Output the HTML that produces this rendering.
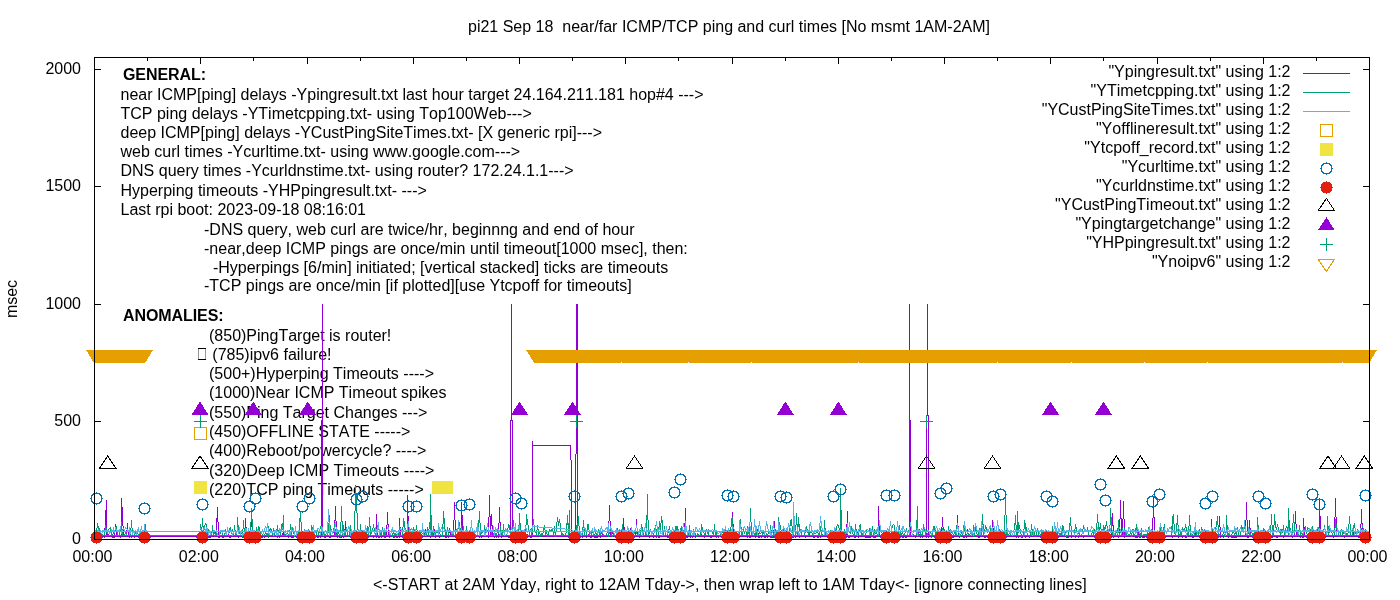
<!DOCTYPE html>
<html><head><meta charset="utf-8"><style>
html,body{margin:0;padding:0;background:#fff;width:1400px;height:600px;overflow:hidden}
text{font-family:"Liberation Sans",sans-serif}
</style></head><body>
<svg width="1400" height="600" viewBox="0 0 1400 600" font-family="Liberation Sans, sans-serif" style="position:absolute;left:0;top:0">
<rect width="1400" height="600" fill="#fff"/>
<g shape-rendering="crispEdges" stroke="#000" stroke-width="1" fill="none">
<path d="M95 421.5H101M1369 421.5H1363M95 304.5H101M1369 304.5H1363M95 186.5H101M1369 186.5H1363M95 69.5H101M1369 69.5H1363M147.5 58V61M147.5 539V536M200.5 58V64M200.5 539V533M253.5 58V61M253.5 539V536M307.5 58V64M307.5 539V533M360.5 58V61M360.5 539V536M413.5 58V64M413.5 539V533M466.5 58V61M466.5 539V536M519.5 58V64M519.5 539V533M572.5 58V61M572.5 539V536M625.5 58V64M625.5 539V533M678.5 58V61M678.5 539V536M732.5 58V64M732.5 539V533M785.5 58V61M785.5 539V536M838.5 58V64M838.5 539V533M891.5 58V61M891.5 539V536M944.5 58V64M944.5 539V533M997.5 58V61M997.5 539V536M1050.5 58V64M1050.5 539V533M1103.5 58V61M1103.5 539V536M1157.5 58V64M1157.5 539V533M1210.5 58V61M1210.5 539V536M1263.5 58V64M1263.5 539V533M1316.5 58V61M1316.5 539V536"/>
</g>
<defs><filter id="gs" x="0" y="0" width="1400" height="600" filterUnits="userSpaceOnUse"><feColorMatrix type="saturate" values="0"/></filter></defs>
<g fill="#000" style="font-kerning:none" filter="url(#gs)">
<text x="468.0" y="32.0" text-anchor="start" font-size="16" font-weight="normal" >pi21 Sep 18 &#160;near/far ICMP/TCP ping and curl times [No msmt 1AM-2AM]</text>
<text x="81.0" y="73.8" text-anchor="end" font-size="16" font-weight="normal" >2000</text>
<text x="81.0" y="190.8" text-anchor="end" font-size="16" font-weight="normal" >1500</text>
<text x="81.0" y="308.8" text-anchor="end" font-size="16" font-weight="normal" >1000</text>
<text x="81.0" y="425.8" text-anchor="end" font-size="16" font-weight="normal" >500</text>
<text x="81.0" y="543.8" text-anchor="end" font-size="16" font-weight="normal" >0</text>
<text x="92.5" y="562.0" text-anchor="middle" font-size="16" font-weight="normal" >00:00</text>
<text x="198.8" y="562.0" text-anchor="middle" font-size="16" font-weight="normal" >02:00</text>
<text x="305.0" y="562.0" text-anchor="middle" font-size="16" font-weight="normal" >04:00</text>
<text x="411.2" y="562.0" text-anchor="middle" font-size="16" font-weight="normal" >06:00</text>
<text x="517.5" y="562.0" text-anchor="middle" font-size="16" font-weight="normal" >08:00</text>
<text x="623.8" y="562.0" text-anchor="middle" font-size="16" font-weight="normal" >10:00</text>
<text x="730.0" y="562.0" text-anchor="middle" font-size="16" font-weight="normal" >12:00</text>
<text x="836.2" y="562.0" text-anchor="middle" font-size="16" font-weight="normal" >14:00</text>
<text x="942.5" y="562.0" text-anchor="middle" font-size="16" font-weight="normal" >16:00</text>
<text x="1048.8" y="562.0" text-anchor="middle" font-size="16" font-weight="normal" >18:00</text>
<text x="1155.0" y="562.0" text-anchor="middle" font-size="16" font-weight="normal" >20:00</text>
<text x="1261.2" y="562.0" text-anchor="middle" font-size="16" font-weight="normal" >22:00</text>
<text x="1367.5" y="562.0" text-anchor="middle" font-size="16" font-weight="normal" >00:00</text>
<text x="373.0" y="590.0" text-anchor="start" font-size="16" font-weight="normal" >&lt;-START at 2AM Yday, right to 12AM Tday-&gt;, then wrap left to 1AM Tday&lt;- [ignore connecting lines]</text>
<text x="0" y="0" transform="translate(17,299) rotate(-90)" text-anchor="middle" font-size="16">msec</text>
<text x="123.0" y="80.0" text-anchor="start" font-size="16" font-weight="bold" letter-spacing="-0.08">GENERAL:</text>
<text x="120.5" y="99.5" text-anchor="start" font-size="16" font-weight="normal" >near ICMP[ping] delays -Ypingresult.txt last hour target 24.164.211.181 hop#4 ---&gt;</text>
<text x="120.5" y="118.7" text-anchor="start" font-size="16" font-weight="normal" >TCP ping delays -YTimetcpping.txt- using Top100Web---&gt;</text>
<text x="120.5" y="137.9" text-anchor="start" font-size="16" font-weight="normal" >deep ICMP[ping] delays -YCustPingSiteTimes.txt- [X generic rpi]---&gt;</text>
<text x="120.5" y="157.1" text-anchor="start" font-size="16" font-weight="normal" >web curl times -Ycurltime.txt- using www.google.com---&gt;</text>
<text x="120.5" y="176.3" text-anchor="start" font-size="16" font-weight="normal" >DNS query times -Ycurldnstime.txt- using router? 172.24.1.1---&gt;</text>
<text x="120.5" y="195.5" text-anchor="start" font-size="16" font-weight="normal" >Hyperping timeouts -YHPpingresult.txt- ---&gt;</text>
<text x="120.5" y="214.7" text-anchor="start" font-size="16" font-weight="normal" >Last rpi boot: 2023-09-18 08:16:01</text>
<text x="204.0" y="234.6" text-anchor="start" font-size="16" font-weight="normal" >-DNS query, web curl are twice/hr, beginnng and end of hour</text>
<text x="204.0" y="253.5" text-anchor="start" font-size="16" font-weight="normal" >-near,deep ICMP pings are once/min until timeout[1000 msec], then:</text>
<text x="204.0" y="272.5" text-anchor="start" font-size="16" font-weight="normal" >&#160;&#160;-Hyperpings [6/min] initiated; [vertical stacked] ticks are timeouts</text>
<text x="204.0" y="291.4" text-anchor="start" font-size="16" font-weight="normal" >-TCP pings are once/min [if plotted][use Ytcpoff for timeouts]</text>
<text x="123.0" y="321.0" text-anchor="start" font-size="16" font-weight="bold" letter-spacing="-0.08">ANOMALIES:</text>
<text x="209.0" y="340.5" text-anchor="start" font-size="16" font-weight="normal" >(850)PingTarget is router!</text>
<text x="209.0" y="379.1" text-anchor="start" font-size="16" font-weight="normal" >(500+)Hyperping Timeouts ----&gt;</text>
<text x="209.0" y="398.4" text-anchor="start" font-size="16" font-weight="normal" >(1000)Near ICMP Timeout spikes</text>
<text x="209.0" y="417.7" text-anchor="start" font-size="16" font-weight="normal" >(550)Ping Target Changes ---&gt;</text>
<text x="209.0" y="437.0" text-anchor="start" font-size="16" font-weight="normal" >(450)OFFLINE STATE -----&gt;</text>
<text x="209.0" y="456.3" text-anchor="start" font-size="16" font-weight="normal" >(400)Reboot/powercycle? ----&gt;</text>
<text x="209.0" y="475.6" text-anchor="start" font-size="16" font-weight="normal" >(320)Deep ICMP Timeouts ----&gt;</text>
<text x="209.0" y="494.9" text-anchor="start" font-size="16" font-weight="normal" >(220)TCP ping Timeouts -----&gt; </text>
<text x="212.3" y="360.0" text-anchor="start" font-size="16" font-weight="normal" >(785)ipv6 failure!</text>
<path d="M198 348h8v1h-8zM198 359h8v1h-8z" fill="#000" shape-rendering="crispEdges"/><path d="M198 349h1v10h-1zM205 349h1v10h-1z" fill="#999" shape-rendering="crispEdges"/>
<text x="1290.5" y="76.6" text-anchor="end" font-size="16" font-weight="normal" >"Ypingresult.txt" using 1:2</text>
<text x="1290.5" y="95.6" text-anchor="end" font-size="16" font-weight="normal" >"YTimetcpping.txt" using 1:2</text>
<text x="1290.5" y="114.6" text-anchor="end" font-size="16" font-weight="normal" >"YCustPingSiteTimes.txt" using 1:2</text>
<text x="1290.5" y="133.6" text-anchor="end" font-size="16" font-weight="normal" >"Yofflineresult.txt" using 1:2</text>
<text x="1290.5" y="152.6" text-anchor="end" font-size="16" font-weight="normal" >"Ytcpoff_record.txt" using 1:2</text>
<text x="1290.5" y="171.6" text-anchor="end" font-size="16" font-weight="normal" >"Ycurltime.txt" using 1:2</text>
<text x="1290.5" y="190.6" text-anchor="end" font-size="16" font-weight="normal" >"Ycurldnstime.txt" using 1:2</text>
<text x="1290.5" y="209.6" text-anchor="end" font-size="16" font-weight="normal" >"YCustPingTimeout.txt" using 1:2</text>
<text x="1290.5" y="228.6" text-anchor="end" font-size="16" font-weight="normal" >"Ypingtargetchange" using 1:2</text>
<text x="1290.5" y="247.6" text-anchor="end" font-size="16" font-weight="normal" >"YHPpingresult.txt" using 1:2</text>
<text x="1290.5" y="266.6" text-anchor="end" font-size="16" font-weight="normal" >"Ynoipv6" using 1:2</text>
</g>
<g shape-rendering="crispEdges">
<line x1="532.5" y1="536.5" x2="573.5" y2="536.5" stroke="#9400d3" stroke-width="1"/>
<line x1="1368.5" y1="536.5" x2="94.5" y2="536.5" stroke="#9400d3" stroke-width="1"/>
<path d="M94.5 536v1M95.5 536v1M96.5 537v1M97.5 537v1M98.5 536v2M99.5 536v1M100.5 537v1M101.5 536v1M102.5 536v1M103.5 536v1M104.5 528v10M105.5 510v18M106.5 500v37M107.5 532v3M108.5 534v3M109.5 536v1M110.5 536v1M111.5 536v1M112.5 537v1M113.5 536v2M114.5 531v7M115.5 524v7M116.5 530v7M117.5 536v1M118.5 536v1M119.5 536v1M120.5 537v1M121.5 498v39M122.5 507v19M123.5 526v11M124.5 536v1M125.5 536v1M126.5 530v7M127.5 523v7M128.5 530v7M129.5 536v2M130.5 536v1M131.5 537v1M132.5 536v1M133.5 536v1M134.5 537v1M135.5 536v1M136.5 536v1M137.5 536v1M138.5 536v1M139.5 536v1M140.5 537v1M141.5 537v1M142.5 536v1M143.5 537v1M144.5 536v2M145.5 536v1M146.5 536v1M147.5 537v1M200.5 536v1M201.5 537v1M202.5 536v1M203.5 536v1M204.5 536v1M205.5 536v1M206.5 536v2M207.5 533v3M208.5 535v2M209.5 537v1M210.5 537v1M211.5 536v1M212.5 536v1M213.5 536v1M214.5 536v1M215.5 532v5M216.5 518v14M217.5 507v15M218.5 522v16M219.5 537v1M220.5 536v1M221.5 536v1M222.5 534v4M223.5 537v1M224.5 535v2M225.5 536v1M226.5 536v1M227.5 536v1M228.5 534v2M229.5 535v3M230.5 537v1M231.5 536v1M232.5 536v1M233.5 536v1M234.5 536v1M235.5 536v1M236.5 534v2M237.5 535v2M238.5 537v1M239.5 536v1M240.5 536v1M241.5 536v1M242.5 537v1M243.5 536v1M244.5 536v1M245.5 518v19M246.5 527v10M247.5 537v1M248.5 537v1M249.5 537v1M250.5 527v10M251.5 517v10M252.5 527v11M253.5 536v1M254.5 536v1M255.5 536v1M256.5 536v1M257.5 536v1M258.5 537v1M259.5 536v1M260.5 536v2M261.5 536v1M262.5 537v1M263.5 536v1M264.5 537v1M265.5 536v1M266.5 534v2M267.5 535v2M268.5 536v2M269.5 536v1M270.5 536v1M271.5 536v1M272.5 536v1M273.5 536v1M274.5 536v1M275.5 536v1M276.5 536v1M277.5 537v1M278.5 536v1M279.5 537v1M280.5 536v1M281.5 536v1M282.5 533v4M283.5 528v9M284.5 536v1M285.5 536v1M286.5 536v1M287.5 536v1M288.5 537v1M289.5 536v1M290.5 536v1M291.5 536v2M292.5 537v1M293.5 537v1M294.5 536v1M295.5 536v1M296.5 536v1M297.5 536v1M298.5 537v1M299.5 536v1M300.5 536v1M301.5 536v1M302.5 537v1M303.5 536v1M304.5 536v1M305.5 536v1M306.5 536v1M307.5 535v3M308.5 537v1M309.5 536v1M310.5 536v1M311.5 537v1M312.5 537v1M313.5 537v1M314.5 536v2M315.5 536v1M316.5 536v1M317.5 537v1M318.5 537v1M319.5 536v1M320.5 537v1M321.5 536v1M322.5 536v1M323.5 536v1M324.5 537v1M325.5 537v1M326.5 536v1M327.5 536v1M328.5 536v1M329.5 537v1M330.5 535v3M331.5 536v1M332.5 536v1M333.5 535v2M334.5 520v15M335.5 506v15M336.5 521v16M337.5 536v2M338.5 536v1M339.5 537v1M340.5 537v1M341.5 537v1M342.5 536v1M343.5 537v1M344.5 529v8M345.5 521v15M346.5 536v1M347.5 536v1M348.5 536v1M349.5 536v1M350.5 536v1M351.5 536v1M352.5 536v1M353.5 535v2M354.5 536v2M355.5 536v1M356.5 537v1M357.5 535v2M358.5 536v1M359.5 536v1M360.5 537v1M361.5 533v4M362.5 535v2M363.5 536v1M364.5 536v1M365.5 536v1M366.5 536v1M367.5 537v1M368.5 537v1M369.5 536v1M370.5 536v1M371.5 536v1M372.5 536v1M373.5 537v1M374.5 536v1M375.5 536v1M376.5 514v24M377.5 525v12M378.5 537v1M379.5 537v1M380.5 536v1M381.5 537v1M382.5 536v1M383.5 536v1M384.5 536v2M385.5 537v1M386.5 525v12M387.5 512v13M388.5 524v13M389.5 537v1M390.5 536v1M391.5 536v1M392.5 536v1M393.5 537v1M394.5 537v1M395.5 536v1M396.5 537v1M397.5 537v1M398.5 536v1M399.5 518v20M400.5 527v10M401.5 536v1M402.5 536v1M403.5 537v1M404.5 536v1M405.5 536v1M406.5 536v1M407.5 495v43M408.5 516v22M409.5 536v1M410.5 536v1M411.5 536v1M412.5 534v2M413.5 535v2M414.5 536v1M415.5 536v2M416.5 536v1M417.5 536v1M418.5 537v1M419.5 536v1M420.5 536v1M421.5 536v1M422.5 536v1M423.5 536v1M424.5 533v4M425.5 529v4M426.5 533v4M427.5 536v1M428.5 536v1M429.5 536v1M430.5 537v1M431.5 536v1M432.5 536v1M433.5 532v4M434.5 529v4M435.5 533v5M436.5 536v1M437.5 536v1M438.5 536v1M439.5 537v1M440.5 535v2M441.5 536v1M442.5 536v1M443.5 536v1M444.5 536v1M445.5 537v1M446.5 536v2M447.5 536v1M448.5 533v5M449.5 528v5M450.5 532v5M451.5 536v1M452.5 535v1M453.5 520v17M454.5 502v18M455.5 520v18M456.5 536v1M457.5 537v1M458.5 537v1M459.5 536v1M460.5 536v1M461.5 502v35M462.5 515v18M463.5 533v5M464.5 536v1M465.5 536v1M466.5 536v1M467.5 536v1M468.5 536v1M469.5 536v2M470.5 537v1M471.5 537v1M472.5 536v1M473.5 537v1M474.5 537v1M475.5 536v1M476.5 536v1M477.5 536v1M478.5 536v1M479.5 537v1M480.5 536v1M481.5 537v1M482.5 536v1M483.5 536v1M484.5 536v1M485.5 536v1M486.5 536v1M487.5 536v1M488.5 517v21M489.5 495v22M490.5 516v21M491.5 514v12M492.5 525v12M493.5 536v1M494.5 537v1M495.5 536v1M496.5 537v1M497.5 536v1M498.5 523v15M499.5 507v16M500.5 522v15M501.5 537v1M502.5 536v1M503.5 536v1M504.5 536v1M505.5 536v1M506.5 536v1M507.5 536v1M508.5 537v1M509.5 536v1M510.5 536v1M511.5 534v2M512.5 536v2M513.5 536v1M514.5 537v1M515.5 536v1M516.5 536v1M517.5 536v1M518.5 536v1M519.5 536v1M520.5 536v1M521.5 534v2M522.5 535v2M523.5 536v2M524.5 536v1M525.5 537v1M526.5 536v1M527.5 534v2M528.5 535v2M529.5 536v1M530.5 537v1M531.5 536v2M532.5 536v1M573.5 536v1M574.5 536v1M575.5 536v1M576.5 536v1M577.5 536v1M578.5 536v1M579.5 537v1M580.5 536v1M581.5 536v1M582.5 537v1M583.5 536v1M584.5 536v1M585.5 536v1M586.5 537v1M587.5 536v1M588.5 534v2M589.5 535v2M590.5 537v1M591.5 537v1M592.5 536v1M593.5 536v1M594.5 537v1M595.5 537v1M596.5 537v1M597.5 537v1M598.5 536v1M599.5 536v1M600.5 536v2M601.5 536v1M602.5 534v2M603.5 535v2M604.5 536v1M605.5 536v1M606.5 536v1M607.5 536v1M608.5 521v16M609.5 505v16M610.5 521v16M611.5 534v3M612.5 530v4M613.5 533v4M614.5 536v1M615.5 537v1M616.5 536v1M617.5 536v1M618.5 536v1M619.5 536v1M620.5 536v1M621.5 536v1M622.5 536v1M623.5 518v20M624.5 527v10M625.5 536v1M626.5 536v1M627.5 537v1M628.5 537v1M629.5 533v5M630.5 528v5M631.5 532v5M632.5 536v1M633.5 537v1M634.5 536v1M635.5 528v9M636.5 519v9M637.5 528v9M638.5 536v1M639.5 536v2M640.5 534v2M641.5 535v2M642.5 536v1M643.5 536v1M644.5 536v1M645.5 536v1M646.5 536v1M647.5 536v1M648.5 536v1M649.5 537v1M650.5 536v1M651.5 536v1M652.5 536v1M653.5 537v1M654.5 536v1M655.5 536v1M656.5 537v1M657.5 536v1M658.5 537v1M659.5 537v1M660.5 536v1M661.5 536v1M662.5 536v1M663.5 536v1M664.5 536v1M665.5 536v1M666.5 536v1M667.5 537v1M668.5 537v1M669.5 536v1M670.5 536v2M671.5 536v1M672.5 537v1M673.5 537v1M674.5 536v1M675.5 537v1M676.5 536v1M677.5 537v1M678.5 536v1M679.5 536v1M680.5 537v1M681.5 536v1M682.5 537v1M683.5 537v1M684.5 523v14M685.5 508v29M686.5 537v1M687.5 537v1M688.5 536v1M689.5 536v1M690.5 537v1M691.5 536v1M692.5 537v1M693.5 536v1M694.5 536v1M695.5 537v1M696.5 536v1M697.5 536v1M698.5 536v1M699.5 536v1M700.5 536v1M701.5 533v4M702.5 535v2M703.5 536v1M704.5 537v1M705.5 536v1M706.5 536v1M707.5 536v1M708.5 536v1M709.5 536v1M710.5 537v1M711.5 537v1M712.5 536v1M713.5 536v1M714.5 536v1M715.5 536v1M716.5 536v2M717.5 536v1M718.5 537v1M719.5 536v1M720.5 536v1M721.5 536v1M722.5 536v1M723.5 536v1M724.5 536v2M725.5 536v1M726.5 536v1M727.5 536v1M728.5 536v1M729.5 536v1M730.5 536v1M731.5 536v1M732.5 512v25M733.5 524v13M734.5 535v2M735.5 532v3M736.5 534v3M737.5 536v1M738.5 537v1M739.5 536v2M740.5 536v1M741.5 536v1M742.5 536v1M743.5 536v1M744.5 536v1M745.5 536v1M746.5 534v2M747.5 535v3M748.5 536v1M749.5 537v1M750.5 537v1M751.5 536v1M752.5 536v1M753.5 536v1M754.5 536v1M755.5 536v2M756.5 533v4M757.5 529v4M758.5 533v5M759.5 537v1M760.5 536v1M761.5 537v1M762.5 536v1M763.5 536v1M764.5 537v1M765.5 537v1M766.5 536v1M767.5 537v1M768.5 536v1M769.5 536v1M770.5 536v2M771.5 537v1M772.5 537v1M773.5 530v8M774.5 521v9M775.5 529v9M776.5 536v1M777.5 536v1M778.5 536v2M779.5 536v1M780.5 537v1M781.5 536v1M782.5 537v1M783.5 536v1M784.5 536v1M785.5 535v1M786.5 536v1M787.5 536v1M788.5 537v1M789.5 537v1M790.5 536v1M791.5 536v1M792.5 536v1M793.5 536v2M794.5 536v1M795.5 537v1M796.5 536v1M797.5 536v1M798.5 536v1M799.5 537v1M800.5 536v1M801.5 536v1M802.5 536v1M803.5 536v1M804.5 536v1M805.5 537v1M806.5 536v1M807.5 536v1M808.5 536v1M809.5 534v3M810.5 535v2M811.5 536v1M812.5 536v1M813.5 537v1M814.5 537v1M815.5 536v1M816.5 536v1M817.5 536v2M818.5 537v1M819.5 536v1M820.5 537v1M821.5 536v1M822.5 536v1M823.5 536v1M824.5 535v2M825.5 536v1M826.5 536v1M827.5 534v2M828.5 535v2M829.5 536v1M830.5 536v1M831.5 536v1M832.5 536v2M833.5 537v1M834.5 537v1M835.5 536v1M836.5 536v1M837.5 536v1M838.5 536v1M839.5 537v1M840.5 536v1M841.5 536v1M842.5 536v1M843.5 536v1M844.5 536v1M845.5 536v1M846.5 524v13M847.5 511v26M848.5 537v1M849.5 537v1M850.5 536v1M851.5 536v1M852.5 536v1M853.5 536v1M854.5 537v1M855.5 536v2M856.5 535v2M857.5 532v3M858.5 535v3M859.5 536v1M860.5 536v1M861.5 536v1M862.5 536v1M863.5 535v2M864.5 536v1M865.5 537v1M866.5 537v1M867.5 537v1M868.5 537v1M869.5 537v1M870.5 537v1M871.5 536v1M872.5 536v1M873.5 537v1M874.5 537v1M875.5 537v1M876.5 536v1M877.5 536v1M878.5 506v31M879.5 521v16M880.5 536v1M881.5 536v1M882.5 537v1M883.5 536v1M884.5 537v1M885.5 537v1M886.5 536v2M887.5 536v1M888.5 537v1M889.5 536v1M890.5 536v1M891.5 536v1M892.5 536v1M893.5 535v2M894.5 533v3M895.5 536v1M896.5 537v1M897.5 537v1M898.5 536v1M899.5 536v1M900.5 536v1M901.5 536v1M902.5 536v2M903.5 537v1M904.5 536v1M905.5 537v1M906.5 537v1M907.5 536v1M908.5 536v1M909.5 536v1M910.5 536v1M911.5 536v1M912.5 536v1M913.5 536v1M914.5 536v1M915.5 537v1M916.5 536v1M917.5 535v2M918.5 532v3M919.5 534v3M920.5 537v1M921.5 536v1M922.5 537v1M923.5 536v1M924.5 536v1M925.5 536v1M926.5 537v1M927.5 536v1M928.5 537v1M929.5 536v1M930.5 536v1M931.5 537v1M932.5 536v1M933.5 536v1M934.5 536v1M935.5 536v1M936.5 537v1M937.5 536v1M938.5 537v1M939.5 535v2M940.5 533v5M941.5 527v10M942.5 517v10M943.5 527v11M944.5 536v1M945.5 536v1M946.5 536v1M947.5 536v1M948.5 536v2M949.5 537v1M950.5 537v1M951.5 536v1M952.5 537v1M953.5 537v1M954.5 536v1M955.5 536v1M956.5 526v11M957.5 515v11M958.5 526v11M959.5 537v1M960.5 536v1M961.5 536v1M962.5 536v1M963.5 536v2M964.5 536v2M965.5 534v2M966.5 534v4M967.5 529v5M968.5 533v4M969.5 536v1M970.5 536v1M971.5 536v1M972.5 536v1M973.5 536v1M974.5 536v1M975.5 536v1M976.5 536v1M977.5 536v1M978.5 537v1M979.5 536v2M980.5 536v1M981.5 536v1M982.5 536v1M983.5 536v1M984.5 537v1M985.5 537v1M986.5 536v1M987.5 536v1M988.5 536v1M989.5 536v1M990.5 536v1M991.5 529v8M992.5 520v9M993.5 528v9M994.5 536v1M995.5 535v2M996.5 533v2M997.5 531v3M998.5 534v3M999.5 536v1M1000.5 536v1M1001.5 536v1M1002.5 536v1M1003.5 536v1M1004.5 537v1M1005.5 536v1M1006.5 536v1M1007.5 536v1M1008.5 536v1M1009.5 536v1M1010.5 533v4M1011.5 535v2M1012.5 536v1M1013.5 536v1M1014.5 536v1M1015.5 536v1M1016.5 537v1M1017.5 536v1M1018.5 537v1M1019.5 536v1M1020.5 536v1M1021.5 537v1M1022.5 537v1M1023.5 535v2M1024.5 536v1M1025.5 537v1M1026.5 536v1M1027.5 536v1M1028.5 536v1M1029.5 537v1M1030.5 536v1M1031.5 536v1M1032.5 536v1M1033.5 536v1M1034.5 536v1M1035.5 536v1M1036.5 534v2M1037.5 535v2M1038.5 536v1M1039.5 536v1M1040.5 536v1M1041.5 536v1M1042.5 536v1M1043.5 536v1M1044.5 536v1M1045.5 537v1M1046.5 536v1M1047.5 537v1M1048.5 536v1M1049.5 536v1M1050.5 536v1M1051.5 536v1M1052.5 536v1M1053.5 536v1M1054.5 536v1M1055.5 536v1M1056.5 536v2M1057.5 536v1M1058.5 537v1M1059.5 536v1M1060.5 536v1M1061.5 536v1M1062.5 536v1M1063.5 536v1M1064.5 536v1M1065.5 536v1M1066.5 537v1M1067.5 537v1M1068.5 537v1M1069.5 536v1M1070.5 536v1M1071.5 537v1M1072.5 536v1M1073.5 536v1M1074.5 536v1M1075.5 537v1M1076.5 536v1M1077.5 536v1M1078.5 537v1M1079.5 536v1M1080.5 536v1M1081.5 536v1M1082.5 536v1M1083.5 537v1M1084.5 536v1M1085.5 536v1M1086.5 536v1M1087.5 536v1M1088.5 536v1M1089.5 536v1M1090.5 536v1M1091.5 536v1M1092.5 536v1M1093.5 536v1M1094.5 536v1M1095.5 535v3M1096.5 536v1M1097.5 536v1M1098.5 536v1M1099.5 536v1M1100.5 536v1M1101.5 536v1M1102.5 537v1M1103.5 537v1M1104.5 536v1M1105.5 536v1M1106.5 536v1M1107.5 536v2M1108.5 534v2M1109.5 536v2M1110.5 536v2M1111.5 526v12M1112.5 513v13M1113.5 525v13M1114.5 536v1M1115.5 534v2M1116.5 535v2M1117.5 536v1M1118.5 536v2M1119.5 519v18M1120.5 500v19M1121.5 518v19M1122.5 519v18M1123.5 501v18M1124.5 519v19M1125.5 536v1M1126.5 536v1M1127.5 536v1M1128.5 536v1M1129.5 536v1M1130.5 536v1M1131.5 536v1M1132.5 535v1M1133.5 536v1M1134.5 536v1M1135.5 537v1M1136.5 537v1M1137.5 535v3M1138.5 531v4M1139.5 534v4M1140.5 537v1M1141.5 534v3M1142.5 536v2M1143.5 537v1M1144.5 537v1M1145.5 536v1M1146.5 537v1M1147.5 536v1M1148.5 537v1M1149.5 534v3M1150.5 535v2M1151.5 536v1M1152.5 518v20M1153.5 497v21M1154.5 517v21M1155.5 536v1M1156.5 536v1M1157.5 536v2M1158.5 536v1M1159.5 537v1M1160.5 537v1M1161.5 537v1M1162.5 536v1M1163.5 536v1M1164.5 536v2M1165.5 536v1M1166.5 536v1M1167.5 536v1M1168.5 536v1M1169.5 536v1M1170.5 536v1M1171.5 536v1M1172.5 536v2M1173.5 536v1M1174.5 536v1M1175.5 536v1M1176.5 536v1M1177.5 536v1M1178.5 537v1M1179.5 536v1M1180.5 536v1M1181.5 536v1M1182.5 537v1M1183.5 536v1M1184.5 536v1M1185.5 537v1M1186.5 537v1M1187.5 536v1M1188.5 536v1M1189.5 536v1M1190.5 536v1M1191.5 536v1M1192.5 537v1M1193.5 537v1M1194.5 535v2M1195.5 533v4M1196.5 536v1M1197.5 536v1M1198.5 536v1M1199.5 537v1M1200.5 535v2M1201.5 536v2M1202.5 536v1M1203.5 537v1M1204.5 537v1M1205.5 536v1M1206.5 536v1M1207.5 536v1M1208.5 536v1M1209.5 537v1M1210.5 536v1M1211.5 519v19M1212.5 528v9M1213.5 536v1M1214.5 536v1M1215.5 536v1M1216.5 536v1M1217.5 536v1M1218.5 527v11M1219.5 516v11M1220.5 527v11M1221.5 536v1M1222.5 536v1M1223.5 537v1M1224.5 536v1M1225.5 536v1M1226.5 536v1M1227.5 536v1M1228.5 537v1M1229.5 536v1M1230.5 536v1M1231.5 537v1M1232.5 537v1M1233.5 537v1M1234.5 536v2M1235.5 537v1M1236.5 537v1M1237.5 535v2M1238.5 536v1M1239.5 536v1M1240.5 536v1M1241.5 536v1M1242.5 536v1M1243.5 536v1M1244.5 536v1M1245.5 520v17M1246.5 502v18M1247.5 520v18M1248.5 537v1M1249.5 520v17M1250.5 528v9M1251.5 536v1M1252.5 536v1M1253.5 536v1M1254.5 536v1M1255.5 537v1M1256.5 535v2M1257.5 533v4M1258.5 536v1M1259.5 537v1M1260.5 536v1M1261.5 536v1M1262.5 536v1M1263.5 536v1M1264.5 536v1M1265.5 536v2M1266.5 536v1M1267.5 537v1M1268.5 536v1M1269.5 536v1M1270.5 537v1M1271.5 537v1M1272.5 536v2M1273.5 536v1M1274.5 536v1M1275.5 536v1M1276.5 537v1M1277.5 537v1M1278.5 536v1M1279.5 536v1M1280.5 536v1M1281.5 536v1M1282.5 536v1M1283.5 536v2M1284.5 534v2M1285.5 534v1M1286.5 535v2M1287.5 536v1M1288.5 536v1M1289.5 536v1M1290.5 536v1M1291.5 536v1M1292.5 537v1M1293.5 536v1M1294.5 523v13M1295.5 511v13M1296.5 524v13M1297.5 536v1M1298.5 536v1M1299.5 536v1M1300.5 537v1M1301.5 536v1M1302.5 537v1M1303.5 518v20M1304.5 527v10M1305.5 536v1M1306.5 536v1M1307.5 536v1M1308.5 537v1M1309.5 536v1M1310.5 537v1M1311.5 536v1M1312.5 536v1M1313.5 536v1M1314.5 536v1M1315.5 536v1M1316.5 536v1M1317.5 537v1M1318.5 537v1M1319.5 498v39M1320.5 516v19M1321.5 535v2M1322.5 536v1M1323.5 536v1M1324.5 536v1M1325.5 536v1M1326.5 536v1M1327.5 536v1M1328.5 536v1M1329.5 536v1M1330.5 536v1M1331.5 536v1M1332.5 536v1M1333.5 537v1M1334.5 517v20M1335.5 498v19M1336.5 517v20M1337.5 536v1M1338.5 536v1M1339.5 536v1M1340.5 536v1M1341.5 536v1M1342.5 536v1M1343.5 536v1M1344.5 537v1M1345.5 536v1M1346.5 536v1M1347.5 536v1M1348.5 536v1M1349.5 536v1M1350.5 536v1M1351.5 536v1M1352.5 535v2M1353.5 532v3M1354.5 534v3M1355.5 536v1M1356.5 536v1M1357.5 536v1M1358.5 537v1M1359.5 536v1M1360.5 524v14M1361.5 509v15M1362.5 523v14M1363.5 536v1M1364.5 536v1M1365.5 536v1M1366.5 536v1M1367.5 536v1M1368.5 536v1" stroke="#9400d3" stroke-width="1" fill="none"/>
<rect x="322.0" y="304.0" width="1" height="232.0" fill="#9400d3"/>
<rect x="321.0" y="420.0" width="1" height="116.0" fill="#9400d3"/>
<rect x="511.0" y="304.0" width="1" height="117.0" fill="#9400d3"/>
<rect x="510.0" y="420.0" width="1" height="116.0" fill="#9400d3"/>
<rect x="512.0" y="420.0" width="1" height="116.0" fill="#9400d3"/>
<rect x="577.0" y="304.0" width="1" height="232.0" fill="#9400d3"/>
<rect x="576.0" y="304.0" width="1" height="150.0" fill="#9400d3"/>
<rect x="909.0" y="304.0" width="1" height="232.0" fill="#9400d3"/>
<rect x="910.0" y="420.0" width="1" height="116.0" fill="#9400d3"/>
<rect x="927.0" y="304.0" width="1" height="112.0" fill="#9400d3"/>
<rect x="926.0" y="415.0" width="1" height="121.0" fill="#9400d3"/>
<rect x="928.0" y="415.0" width="1" height="121.0" fill="#9400d3"/>
<rect x="532.0" y="440.5" width="1" height="95.5" fill="#9400d3"/>
<rect x="532" y="445" width="39" height="1" fill="#9400d3"/>
<rect x="570.0" y="445.0" width="1" height="15.0" fill="#9400d3"/>
<rect x="571.0" y="460.0" width="1" height="76.0" fill="#9400d3"/>
<rect x="575.0" y="454.0" width="1" height="82.0" fill="#9400d3"/>
<line x1="1368.5" y1="535.5" x2="94.5" y2="535.5" stroke="#009e73" stroke-width="1"/>
<path d="M94.5 534v2M95.5 532v2M96.5 528v5M97.5 523v5M98.5 526v4M99.5 528v4M100.5 532v3M101.5 533v1M102.5 534v1M103.5 535v1M104.5 531v5M105.5 525v6M106.5 528v5M107.5 532v2M108.5 529v3M109.5 528v1M110.5 527v4M111.5 531v5M112.5 534v2M113.5 531v3M114.5 530v1M115.5 529v2M116.5 526v4M117.5 530v5M118.5 535v1M119.5 531v4M120.5 527v4M121.5 522v11M122.5 529v7M123.5 535v1M124.5 534v2M125.5 531v3M126.5 533v3M127.5 535v1M128.5 535v1M129.5 529v7M130.5 528v8M131.5 520v8M132.5 528v8M133.5 535v1M134.5 533v2M135.5 532v2M136.5 534v2M137.5 531v3M138.5 534v2M139.5 534v2M140.5 532v2M141.5 534v2M142.5 535v1M143.5 534v1M144.5 528v7M145.5 524v6M146.5 530v6M147.5 532v2M200.5 524v6M201.5 527v9M202.5 518v9M203.5 526v8M204.5 525v5M205.5 523v2M206.5 524v12M207.5 532v3M208.5 529v3M209.5 530v1M210.5 531v2M211.5 531v5M212.5 525v6M213.5 530v6M214.5 531v3M215.5 533v3M216.5 533v2M217.5 534v2M218.5 535v1M219.5 534v1M220.5 532v2M221.5 530v2M222.5 532v4M223.5 535v1M224.5 533v3M225.5 529v4M226.5 532v4M227.5 528v4M228.5 530v2M229.5 528v5M230.5 527v3M231.5 530v4M232.5 529v3M233.5 531v5M234.5 525v6M235.5 530v6M236.5 531v5M237.5 517v14M238.5 525v8M239.5 532v2M240.5 534v2M241.5 531v3M242.5 529v8M243.5 520v9M244.5 528v8M245.5 529v7M246.5 530v3M247.5 532v2M248.5 534v2M249.5 535v1M250.5 522v14M251.5 508v14M252.5 519v14M253.5 533v3M254.5 535v1M255.5 532v5M256.5 527v5M257.5 532v5M258.5 526v6M259.5 527v5M260.5 532v4M261.5 535v1M262.5 534v2M263.5 532v2M264.5 534v2M265.5 532v2M266.5 533v2M267.5 533v2M268.5 526v11M269.5 529v3M270.5 528v2M271.5 529v4M272.5 532v4M273.5 528v4M274.5 532v4M275.5 530v3M276.5 529v7M277.5 525v6M278.5 530v6M279.5 529v4M280.5 530v6M281.5 524v6M282.5 523v7M283.5 515v17M284.5 532v4M285.5 534v1M286.5 534v1M287.5 533v1M288.5 534v2M289.5 530v6M290.5 524v6M291.5 530v6M292.5 527v4M293.5 530v4M294.5 534v3M295.5 535v1M296.5 535v1M297.5 534v1M298.5 532v2M299.5 518v14M300.5 511v11M301.5 522v12M302.5 532v1M303.5 532v3M304.5 529v3M305.5 532v4M306.5 535v2M307.5 531v4M308.5 529v3M309.5 532v4M310.5 531v5M311.5 525v6M312.5 527v5M313.5 532v4M314.5 534v3M315.5 536v1M316.5 532v4M317.5 529v3M318.5 532v4M319.5 529v4M320.5 526v3M321.5 528v2M322.5 529v7M323.5 532v2M324.5 534v2M325.5 534v2M326.5 531v3M327.5 533v3M328.5 523v10M329.5 515v10M330.5 525v11M331.5 529v2M332.5 531v2M333.5 528v5M334.5 523v6M335.5 529v6M336.5 534v1M337.5 530v6M338.5 532v2M339.5 534v2M340.5 522v15M341.5 506v16M342.5 521v15M343.5 525v6M344.5 530v6M345.5 531v5M346.5 527v4M347.5 531v5M348.5 535v2M349.5 529v6M350.5 525v6M351.5 531v6M352.5 532v3M353.5 534v2M354.5 511v25M355.5 485v26M356.5 493v20M357.5 513v17M358.5 530v6M359.5 530v6M360.5 524v6M361.5 530v6M362.5 530v3M363.5 533v3M364.5 530v3M365.5 532v3M366.5 531v5M367.5 526v5M368.5 527v9M369.5 517v10M370.5 526v10M371.5 531v3M372.5 528v4M373.5 524v4M374.5 528v5M375.5 533v3M376.5 531v5M377.5 525v6M378.5 527v3M379.5 530v3M380.5 533v3M381.5 532v4M382.5 527v5M383.5 531v5M384.5 528v8M385.5 532v4M386.5 535v1M387.5 535v1M388.5 535v1M389.5 533v2M390.5 533v2M391.5 530v3M392.5 533v4M393.5 531v3M394.5 533v3M395.5 533v2M396.5 534v2M397.5 535v1M398.5 531v5M399.5 526v10M400.5 535v1M401.5 535v1M402.5 527v8M403.5 518v9M404.5 521v7M405.5 528v4M406.5 530v2M407.5 532v3M408.5 530v2M409.5 531v1M410.5 529v3M411.5 532v4M412.5 532v4M413.5 527v5M414.5 530v3M415.5 530v4M416.5 525v5M417.5 530v6M418.5 535v1M419.5 534v2M420.5 531v3M421.5 532v1M422.5 533v1M423.5 534v1M424.5 534v2M425.5 531v3M426.5 532v4M427.5 527v5M428.5 529v7M429.5 522v7M430.5 494v37M431.5 515v21M432.5 531v5M433.5 526v5M434.5 531v5M435.5 533v3M436.5 530v3M437.5 531v2M438.5 530v3M439.5 532v2M440.5 534v1M441.5 535v1M442.5 524v13M443.5 511v13M444.5 518v12M445.5 530v6M446.5 532v4M447.5 527v5M448.5 531v5M449.5 535v1M450.5 535v1M451.5 534v1M452.5 533v3M453.5 530v6M454.5 535v1M455.5 532v3M456.5 529v3M457.5 529v1M458.5 526v3M459.5 522v6M460.5 528v7M461.5 525v11M462.5 530v6M463.5 526v5M464.5 531v5M465.5 531v5M466.5 526v5M467.5 530v5M468.5 535v1M469.5 534v3M470.5 531v3M471.5 531v3M472.5 534v3M473.5 532v3M474.5 532v2M475.5 534v3M476.5 535v1M477.5 531v6M478.5 520v11M479.5 511v12M480.5 523v13M481.5 531v3M482.5 532v1M483.5 531v1M484.5 525v6M485.5 529v4M486.5 531v1M487.5 530v1M488.5 528v2M489.5 530v2M490.5 529v3M491.5 532v4M492.5 535v1M493.5 533v3M494.5 530v3M495.5 533v3M496.5 533v3M497.5 529v4M498.5 531v3M499.5 534v2M500.5 526v9M501.5 531v5M502.5 530v6M503.5 524v6M504.5 530v6M505.5 535v1M506.5 534v2M507.5 528v6M508.5 524v4M509.5 525v5M510.5 530v6M511.5 531v3M512.5 527v6M513.5 520v8M514.5 528v8M515.5 528v8M516.5 532v4M517.5 529v4M518.5 525v11M519.5 513v12M520.5 523v10M521.5 530v2M522.5 532v2M523.5 530v6M524.5 535v1M525.5 525v11M526.5 514v11M527.5 519v6M528.5 525v5M529.5 530v5M530.5 529v3M531.5 528v8M532.5 525v8M533.5 519v6M534.5 525v6M535.5 531v2M536.5 530v5M537.5 525v5M538.5 529v7M539.5 531v3M540.5 534v3M541.5 533v2M542.5 533v3M543.5 528v5M544.5 525v5M545.5 530v6M546.5 530v4M547.5 534v3M548.5 532v4M549.5 529v3M550.5 530v2M551.5 529v2M552.5 528v3M553.5 531v4M554.5 526v7M555.5 531v6M556.5 522v9M557.5 517v5M558.5 521v5M559.5 519v4M560.5 523v8M561.5 531v5M562.5 533v3M563.5 534v1M564.5 535v1M565.5 533v3M566.5 523v10M567.5 515v10M568.5 523v13M569.5 510v26M570.5 535v1M571.5 533v2M572.5 534v1M573.5 533v3M574.5 530v3M575.5 529v3M576.5 525v5M577.5 523v13M578.5 516v10M579.5 526v10M580.5 531v3M581.5 533v3M582.5 527v8M583.5 520v8M584.5 528v8M585.5 535v1M586.5 530v6M587.5 524v6M588.5 524v6M589.5 530v6M590.5 535v1M591.5 532v4M592.5 528v5M593.5 533v3M594.5 534v2M595.5 531v3M596.5 533v2M597.5 532v3M598.5 529v3M599.5 532v3M600.5 530v6M601.5 532v2M602.5 533v1M603.5 534v2M604.5 535v1M605.5 535v1M606.5 533v3M607.5 529v4M608.5 532v5M609.5 530v4M610.5 527v4M611.5 531v5M612.5 535v2M613.5 532v3M614.5 534v2M615.5 535v1M616.5 532v4M617.5 528v4M618.5 531v3M619.5 529v3M620.5 531v3M621.5 530v6M622.5 524v6M623.5 529v7M624.5 535v1M625.5 535v1M626.5 536v1M627.5 534v2M628.5 531v3M629.5 533v2M630.5 533v2M631.5 530v6M632.5 535v1M633.5 534v2M634.5 531v3M635.5 529v2M636.5 531v3M637.5 534v2M638.5 535v1M639.5 534v2M640.5 530v6M641.5 524v6M642.5 527v5M643.5 532v4M644.5 527v5M645.5 531v5M646.5 515v21M647.5 494v26M648.5 520v16M649.5 531v3M650.5 529v3M651.5 532v4M652.5 535v1M653.5 533v3M654.5 528v5M655.5 525v4M656.5 529v6M657.5 535v2M658.5 527v8M659.5 521v6M660.5 523v7M661.5 516v7M662.5 520v16M663.5 531v5M664.5 526v5M665.5 531v5M666.5 535v1M667.5 533v3M668.5 529v4M669.5 526v4M670.5 530v5M671.5 533v2M672.5 534v1M673.5 535v2M674.5 531v5M675.5 526v5M676.5 526v5M677.5 526v10M678.5 529v4M679.5 533v3M680.5 528v5M681.5 526v5M682.5 531v6M683.5 530v5M684.5 527v5M685.5 532v5M686.5 528v4M687.5 532v4M688.5 531v5M689.5 525v6M690.5 530v6M691.5 535v1M692.5 533v3M693.5 529v7M694.5 533v2M695.5 533v2M696.5 535v2M697.5 533v2M698.5 534v2M699.5 535v1M700.5 531v5M701.5 524v7M702.5 527v3M703.5 530v3M704.5 533v3M705.5 532v3M706.5 529v3M707.5 531v3M708.5 529v7M709.5 530v2M710.5 531v1M711.5 531v1M712.5 532v2M713.5 530v6M714.5 524v6M715.5 530v6M716.5 532v4M717.5 535v1M718.5 535v1M719.5 535v2M720.5 533v2M721.5 531v2M722.5 532v1M723.5 532v2M724.5 530v6M725.5 529v4M726.5 530v2M727.5 532v2M728.5 533v3M729.5 530v3M730.5 527v9M731.5 518v9M732.5 517v18M733.5 534v2M734.5 531v3M735.5 532v1M736.5 531v1M737.5 531v1M738.5 531v2M739.5 526v10M740.5 519v8M741.5 527v9M742.5 532v4M743.5 528v4M744.5 531v3M745.5 528v4M746.5 532v4M747.5 526v10M748.5 529v5M749.5 522v14M750.5 508v14M751.5 522v14M752.5 531v3M753.5 531v2M754.5 533v3M755.5 529v6M756.5 532v4M757.5 533v2M758.5 534v2M759.5 532v2M760.5 533v1M761.5 532v1M762.5 530v6M763.5 532v2M764.5 533v3M765.5 530v3M766.5 533v3M767.5 534v2M768.5 532v2M769.5 531v1M770.5 525v7M771.5 530v6M772.5 535v2M773.5 533v2M774.5 533v3M775.5 529v4M776.5 532v4M777.5 536v1M778.5 517v19M779.5 522v5M780.5 525v5M781.5 530v6M782.5 531v4M783.5 526v5M784.5 531v5M785.5 533v2M786.5 533v3M787.5 530v3M788.5 533v3M789.5 526v7M790.5 520v6M791.5 519v7M792.5 526v8M793.5 534v3M794.5 535v1M795.5 525v11M796.5 513v12M797.5 524v12M798.5 517v10M799.5 524v8M800.5 529v2M801.5 531v4M802.5 535v1M803.5 535v1M804.5 533v3M805.5 529v4M806.5 526v3M807.5 529v4M808.5 532v3M809.5 529v5M810.5 532v1M811.5 530v3M812.5 533v3M813.5 534v1M814.5 533v1M815.5 533v1M816.5 532v1M817.5 531v2M818.5 533v3M819.5 531v5M820.5 526v5M821.5 530v5M822.5 534v1M823.5 535v1M824.5 520v16M825.5 528v8M826.5 534v1M827.5 534v1M828.5 535v1M829.5 532v3M830.5 530v2M831.5 531v3M832.5 534v3M833.5 532v2M834.5 531v1M835.5 530v3M836.5 526v4M837.5 524v2M838.5 525v3M839.5 528v5M840.5 488v48M841.5 510v22M842.5 532v2M843.5 533v3M844.5 529v4M845.5 532v4M846.5 532v2M847.5 530v2M848.5 529v2M849.5 531v2M850.5 530v4M851.5 526v4M852.5 529v5M853.5 534v3M854.5 532v4M855.5 524v8M856.5 529v5M857.5 534v2M858.5 531v5M859.5 525v6M860.5 524v6M861.5 530v6M862.5 533v3M863.5 530v6M864.5 535v1M865.5 533v3M866.5 530v3M867.5 529v1M868.5 530v2M869.5 528v4M870.5 532v4M871.5 529v6M872.5 526v5M873.5 531v5M874.5 529v4M875.5 531v3M876.5 532v2M877.5 534v2M878.5 534v3M879.5 530v4M880.5 529v1M881.5 530v3M882.5 533v3M883.5 535v1M884.5 535v1M885.5 533v2M886.5 532v3M887.5 534v2M888.5 535v1M889.5 535v1M890.5 533v3M891.5 528v5M892.5 525v3M893.5 524v1M894.5 525v10M895.5 535v1M896.5 534v1M897.5 534v1M898.5 529v5M899.5 525v5M900.5 530v6M901.5 533v3M902.5 529v5M903.5 534v2M904.5 533v3M905.5 530v3M906.5 528v4M907.5 532v4M908.5 530v3M909.5 532v4M910.5 535v1M911.5 535v1M912.5 535v1M913.5 534v1M914.5 535v1M915.5 535v1M916.5 520v15M917.5 506v28M918.5 533v3M919.5 529v4M920.5 532v4M921.5 534v1M922.5 530v6M923.5 524v6M924.5 527v4M925.5 531v5M926.5 530v3M927.5 533v3M928.5 535v1M929.5 533v2M930.5 531v2M931.5 533v3M932.5 531v6M933.5 526v5M934.5 526v4M935.5 530v5M936.5 531v2M937.5 531v2M938.5 533v3M939.5 534v2M940.5 531v5M941.5 532v3M942.5 528v4M943.5 529v2M944.5 529v2M945.5 531v2M946.5 533v2M947.5 532v2M948.5 526v6M949.5 530v5M950.5 529v3M951.5 531v2M952.5 532v2M953.5 534v2M954.5 531v3M955.5 531v5M956.5 525v11M957.5 535v1M958.5 534v1M959.5 535v1M960.5 534v3M961.5 530v4M962.5 533v3M963.5 525v9M964.5 528v4M965.5 532v2M966.5 534v2M967.5 531v3M968.5 533v3M969.5 534v2M970.5 531v3M971.5 533v3M972.5 531v5M973.5 525v6M974.5 531v6M975.5 524v7M976.5 529v5M977.5 534v1M978.5 532v4M979.5 528v8M980.5 533v2M981.5 525v11M982.5 514v11M983.5 524v11M984.5 529v4M985.5 525v4M986.5 527v4M987.5 530v3M988.5 529v3M989.5 532v4M990.5 527v5M991.5 531v5M992.5 529v4M993.5 530v2M994.5 532v3M995.5 534v2M996.5 535v1M997.5 533v2M998.5 533v3M999.5 529v4M1000.5 532v3M1001.5 535v1M1002.5 535v2M1003.5 534v2M1004.5 515v21M1005.5 494v21M1006.5 515v21M1007.5 533v2M1008.5 534v2M1009.5 532v2M1010.5 530v6M1011.5 535v1M1012.5 533v3M1013.5 530v3M1014.5 523v7M1015.5 515v10M1016.5 525v11M1017.5 511v24M1018.5 522v11M1019.5 525v4M1020.5 529v5M1021.5 534v3M1022.5 535v1M1023.5 529v8M1024.5 520v9M1025.5 523v10M1026.5 527v6M1027.5 533v3M1028.5 535v1M1029.5 536v1M1030.5 530v6M1031.5 524v6M1032.5 529v6M1033.5 531v2M1034.5 532v3M1035.5 535v2M1036.5 531v4M1037.5 528v3M1038.5 531v4M1039.5 535v1M1040.5 534v2M1041.5 532v4M1042.5 532v2M1043.5 530v3M1044.5 533v3M1045.5 535v1M1046.5 533v2M1047.5 534v1M1048.5 534v2M1049.5 533v2M1050.5 533v1M1051.5 531v4M1052.5 526v5M1053.5 531v5M1054.5 531v4M1055.5 527v4M1056.5 529v6M1057.5 532v4M1058.5 531v3M1059.5 533v3M1060.5 533v2M1061.5 531v5M1062.5 525v6M1063.5 526v5M1064.5 531v5M1065.5 532v3M1066.5 535v2M1067.5 535v1M1068.5 532v4M1069.5 523v9M1070.5 517v9M1071.5 526v10M1072.5 535v1M1073.5 535v1M1074.5 529v6M1075.5 524v5M1076.5 527v6M1077.5 533v3M1078.5 532v2M1079.5 532v4M1080.5 535v1M1081.5 534v2M1082.5 529v5M1083.5 525v4M1084.5 528v3M1085.5 529v1M1086.5 530v1M1087.5 527v5M1088.5 531v5M1089.5 535v1M1090.5 535v1M1091.5 533v3M1092.5 530v3M1093.5 532v3M1094.5 529v3M1095.5 531v5M1096.5 523v9M1097.5 514v9M1098.5 522v9M1099.5 527v4M1100.5 523v6M1101.5 529v7M1102.5 529v7M1103.5 525v6M1104.5 527v3M1105.5 525v4M1106.5 521v5M1107.5 526v7M1108.5 531v5M1109.5 525v6M1110.5 508v17M1111.5 517v13M1112.5 530v6M1113.5 535v1M1114.5 533v2M1115.5 533v3M1116.5 530v3M1117.5 528v8M1118.5 520v13M1119.5 533v3M1120.5 530v3M1121.5 532v4M1122.5 528v4M1123.5 532v4M1124.5 528v4M1125.5 532v4M1126.5 531v4M1127.5 535v1M1128.5 534v1M1129.5 534v2M1130.5 532v2M1131.5 533v4M1132.5 529v4M1133.5 529v7M1134.5 534v2M1135.5 528v6M1136.5 524v6M1137.5 530v6M1138.5 535v1M1139.5 535v1M1140.5 533v4M1141.5 528v8M1142.5 535v1M1143.5 534v1M1144.5 534v1M1145.5 534v1M1146.5 534v2M1147.5 530v4M1148.5 527v4M1149.5 531v5M1150.5 533v3M1151.5 529v4M1152.5 530v1M1153.5 531v2M1154.5 533v3M1155.5 534v1M1156.5 533v1M1157.5 534v2M1158.5 535v1M1159.5 531v5M1160.5 525v6M1161.5 527v5M1162.5 532v4M1163.5 527v6M1164.5 524v13M1165.5 535v1M1166.5 535v1M1167.5 535v1M1168.5 535v1M1169.5 535v1M1170.5 535v1M1171.5 526v10M1172.5 516v17M1173.5 514v10M1174.5 524v10M1175.5 533v3M1176.5 523v10M1177.5 515v10M1178.5 525v11M1179.5 534v1M1180.5 530v6M1181.5 531v4M1182.5 527v4M1183.5 529v3M1184.5 528v4M1185.5 524v4M1186.5 527v5M1187.5 532v5M1188.5 526v10M1189.5 515v11M1190.5 525v10M1191.5 535v1M1192.5 534v2M1193.5 531v3M1194.5 533v3M1195.5 528v5M1196.5 532v4M1197.5 535v1M1198.5 532v3M1199.5 529v3M1200.5 532v4M1201.5 527v5M1202.5 529v2M1203.5 531v5M1204.5 529v4M1205.5 532v4M1206.5 533v2M1207.5 533v3M1208.5 530v3M1209.5 533v3M1210.5 533v2M1211.5 529v4M1212.5 529v3M1213.5 532v4M1214.5 532v4M1215.5 527v5M1216.5 521v6M1217.5 516v9M1218.5 525v10M1219.5 534v2M1220.5 535v1M1221.5 535v1M1222.5 534v2M1223.5 532v2M1224.5 534v3M1225.5 531v3M1226.5 515v17M1227.5 525v11M1228.5 533v2M1229.5 534v2M1230.5 535v1M1231.5 534v2M1232.5 532v2M1233.5 532v1M1234.5 533v3M1235.5 532v2M1236.5 532v4M1237.5 527v5M1238.5 531v5M1239.5 535v1M1240.5 531v5M1241.5 525v6M1242.5 527v3M1243.5 528v2M1244.5 525v4M1245.5 529v5M1246.5 534v2M1247.5 534v2M1248.5 530v4M1249.5 528v8M1250.5 533v3M1251.5 530v3M1252.5 533v3M1253.5 533v2M1254.5 531v2M1255.5 533v2M1256.5 535v1M1257.5 517v19M1258.5 525v8M1259.5 532v2M1260.5 534v2M1261.5 535v1M1262.5 532v4M1263.5 528v4M1264.5 529v3M1265.5 532v3M1266.5 534v1M1267.5 535v1M1268.5 535v1M1269.5 536v1M1270.5 525v11M1271.5 514v11M1272.5 525v11M1273.5 525v11M1274.5 514v11M1275.5 521v7M1276.5 527v3M1277.5 524v3M1278.5 527v4M1279.5 531v2M1280.5 529v6M1281.5 529v3M1282.5 529v4M1283.5 525v5M1284.5 530v6M1285.5 528v4M1286.5 526v2M1287.5 527v5M1288.5 508v28M1289.5 520v12M1290.5 528v4M1291.5 532v4M1292.5 523v10M1293.5 514v9M1294.5 522v9M1295.5 531v1M1296.5 528v4M1297.5 532v4M1298.5 530v5M1299.5 525v5M1300.5 530v6M1301.5 531v3M1302.5 533v3M1303.5 528v8M1304.5 529v3M1305.5 526v4M1306.5 530v4M1307.5 527v4M1308.5 528v1M1309.5 528v1M1310.5 529v3M1311.5 531v5M1312.5 526v5M1313.5 530v5M1314.5 535v1M1315.5 534v1M1316.5 533v3M1317.5 529v4M1318.5 527v3M1319.5 530v3M1320.5 533v3M1321.5 532v2M1322.5 530v2M1323.5 529v3M1324.5 525v5M1325.5 530v6M1326.5 533v3M1327.5 516v17M1328.5 526v10M1329.5 529v4M1330.5 530v2M1331.5 531v2M1332.5 533v3M1333.5 530v3M1334.5 528v8M1335.5 519v9M1336.5 524v6M1337.5 529v3M1338.5 532v3M1339.5 535v2M1340.5 531v4M1341.5 529v3M1342.5 532v4M1343.5 532v2M1344.5 532v1M1345.5 531v2M1346.5 533v3M1347.5 533v3M1348.5 524v9M1349.5 516v8M1350.5 524v12M1351.5 535v1M1352.5 530v5M1353.5 525v5M1354.5 523v5M1355.5 528v6M1356.5 531v2M1357.5 529v4M1358.5 531v2M1359.5 533v3M1360.5 533v4M1361.5 528v5M1362.5 525v3M1363.5 528v5M1364.5 533v3M1365.5 529v4M1366.5 530v3M1367.5 533v3M1368.5 535v1" stroke="#009e73" stroke-width="1" fill="none"/>
<line x1="532.5" y1="526.5" x2="571.5" y2="529.5" stroke="#56b4e9" stroke-width="1"/>
<line x1="1368.5" y1="531.5" x2="94.5" y2="531.5" stroke="#56b4e9" stroke-width="1"/>
<path d="M94.5 531v1M95.5 530v2M96.5 532v3M97.5 530v3M98.5 529v5M99.5 532v2M100.5 530v3M101.5 533v3M102.5 530v3M103.5 530v1M104.5 530v1M105.5 530v1M106.5 530v1M107.5 530v1M108.5 530v2M109.5 532v2M110.5 531v2M111.5 529v2M112.5 530v1M113.5 527v5M114.5 530v3M115.5 527v3M116.5 529v2M117.5 530v1M118.5 530v1M119.5 529v2M120.5 526v4M121.5 530v4M122.5 530v1M123.5 528v2M124.5 529v2M125.5 527v2M126.5 528v1M127.5 529v2M128.5 530v2M129.5 527v8M130.5 530v4M131.5 530v2M132.5 532v3M133.5 530v3M134.5 532v2M135.5 530v2M136.5 532v3M137.5 529v4M138.5 527v4M139.5 531v5M140.5 529v4M141.5 526v4M142.5 530v4M143.5 530v6M144.5 524v7M145.5 530v1M146.5 530v1M147.5 531v2M200.5 528v1M201.5 529v1M202.5 530v1M203.5 528v2M204.5 527v2M205.5 529v4M206.5 527v9M207.5 528v4M208.5 532v4M209.5 530v3M210.5 532v3M211.5 533v1M212.5 532v1M213.5 530v2M214.5 530v1M215.5 531v1M216.5 530v3M217.5 533v3M218.5 535v1M219.5 532v3M220.5 530v2M221.5 530v1M222.5 530v3M223.5 530v2M224.5 530v2M225.5 532v2M226.5 531v4M227.5 527v4M228.5 530v4M229.5 530v2M230.5 530v1M231.5 530v3M232.5 533v3M233.5 532v2M234.5 530v2M235.5 531v2M236.5 532v2M237.5 527v5M238.5 530v4M239.5 527v4M240.5 531v4M241.5 530v3M242.5 533v3M243.5 533v2M244.5 532v3M245.5 528v4M246.5 528v3M247.5 531v3M248.5 528v3M249.5 531v4M250.5 530v3M251.5 530v1M252.5 530v1M253.5 530v1M254.5 530v2M255.5 532v3M256.5 532v3M257.5 529v3M258.5 530v2M259.5 532v3M260.5 534v1M261.5 531v3M262.5 529v2M263.5 531v3M264.5 528v3M265.5 526v2M266.5 527v4M267.5 523v5M268.5 528v6M269.5 533v2M270.5 530v3M271.5 531v2M272.5 531v2M273.5 533v3M274.5 530v3M275.5 530v3M276.5 530v6M277.5 533v3M278.5 532v3M279.5 528v4M280.5 529v2M281.5 529v2M282.5 527v2M283.5 529v3M284.5 532v2M285.5 530v3M286.5 533v3M287.5 530v3M288.5 530v2M289.5 532v3M290.5 531v4M291.5 527v4M292.5 530v1M293.5 528v4M294.5 531v5M295.5 526v5M296.5 531v5M297.5 532v3M298.5 530v2M299.5 530v3M300.5 533v2M301.5 534v1M302.5 533v1M303.5 533v2M304.5 530v3M305.5 530v1M306.5 530v1M307.5 530v1M308.5 530v1M309.5 530v2M310.5 532v3M311.5 530v3M312.5 529v4M313.5 525v5M314.5 530v5M315.5 530v3M316.5 530v1M317.5 528v2M318.5 528v1M319.5 529v3M320.5 531v4M321.5 526v5M322.5 527v7M323.5 534v2M324.5 532v2M325.5 530v2M326.5 532v2M327.5 522v12M328.5 509v13M329.5 522v14M330.5 530v3M331.5 530v2M332.5 532v2M333.5 530v2M334.5 527v4M335.5 522v5M336.5 527v6M337.5 529v2M338.5 530v1M339.5 530v2M340.5 532v3M341.5 530v3M342.5 532v2M343.5 533v3M344.5 530v3M345.5 530v1M346.5 528v2M347.5 529v2M348.5 526v3M349.5 527v4M350.5 531v5M351.5 529v4M352.5 532v3M353.5 530v3M354.5 530v1M355.5 530v1M356.5 530v1M357.5 531v2M358.5 529v2M359.5 530v1M360.5 530v3M361.5 533v3M362.5 530v3M363.5 530v2M364.5 530v4M365.5 525v5M366.5 528v3M367.5 531v2M368.5 530v3M369.5 531v2M370.5 531v1M371.5 530v1M372.5 530v1M373.5 530v2M374.5 531v3M375.5 527v4M376.5 529v6M377.5 527v6M378.5 522v7M379.5 529v7M380.5 530v3M381.5 530v1M382.5 530v1M383.5 530v1M384.5 528v3M385.5 530v1M386.5 529v2M387.5 527v2M388.5 527v3M389.5 530v4M390.5 533v2M391.5 529v4M392.5 527v4M393.5 530v1M394.5 530v1M395.5 530v1M396.5 531v2M397.5 533v3M398.5 530v3M399.5 530v1M400.5 528v2M401.5 529v2M402.5 530v1M403.5 530v1M404.5 528v2M405.5 529v3M406.5 532v2M407.5 524v9M408.5 521v6M409.5 527v6M410.5 530v2M411.5 528v2M412.5 529v2M413.5 530v1M414.5 529v1M415.5 529v6M416.5 532v2M417.5 533v2M418.5 533v3M419.5 530v3M420.5 530v1M421.5 530v1M422.5 523v8M423.5 529v7M424.5 530v3M425.5 533v3M426.5 530v3M427.5 531v2M428.5 530v2M429.5 530v3M430.5 530v6M431.5 530v1M432.5 530v1M433.5 530v3M434.5 533v3M435.5 530v3M436.5 530v1M437.5 530v2M438.5 523v12M439.5 527v4M440.5 529v2M441.5 527v2M442.5 529v2M443.5 527v2M444.5 529v2M445.5 529v1M446.5 530v1M447.5 530v1M448.5 530v1M449.5 530v1M450.5 530v2M451.5 532v2M452.5 532v2M453.5 530v4M454.5 530v2M455.5 530v1M456.5 530v2M457.5 528v7M458.5 520v8M459.5 526v7M460.5 530v2M461.5 528v5M462.5 530v2M463.5 530v1M464.5 531v2M465.5 530v2M466.5 530v1M467.5 530v3M468.5 533v3M469.5 530v5M470.5 527v7M471.5 520v8M472.5 528v8M473.5 533v2M474.5 530v3M475.5 531v2M476.5 527v5M477.5 523v12M478.5 527v4M479.5 531v5M480.5 530v3M481.5 530v1M482.5 530v1M483.5 530v1M484.5 530v6M485.5 533v3M486.5 527v6M487.5 523v4M488.5 527v4M489.5 530v1M490.5 530v1M491.5 530v1M492.5 529v2M493.5 526v5M494.5 531v5M495.5 527v5M496.5 529v2M497.5 528v2M498.5 529v2M499.5 530v1M500.5 531v5M501.5 530v3M502.5 531v1M503.5 530v3M504.5 532v4M505.5 528v4M506.5 529v3M507.5 530v4M508.5 530v1M509.5 531v2M510.5 530v2M511.5 527v3M512.5 529v2M513.5 526v3M514.5 527v4M515.5 523v8M516.5 530v1M517.5 529v2M518.5 526v3M519.5 525v5M520.5 530v6M521.5 530v3M522.5 530v1M523.5 530v4M524.5 529v3M525.5 526v3M526.5 528v3M527.5 531v2M528.5 530v2M529.5 530v1M530.5 530v1M531.5 529v2M532.5 526v3M571.5 529v1M572.5 530v3M573.5 533v2M574.5 532v2M575.5 530v2M576.5 530v1M577.5 528v3M578.5 531v3M579.5 530v2M580.5 532v3M581.5 533v3M582.5 530v3M583.5 529v2M584.5 527v2M585.5 528v3M586.5 530v1M587.5 530v1M588.5 531v1M589.5 530v2M590.5 532v2M591.5 530v2M592.5 528v3M593.5 531v3M594.5 527v4M595.5 529v2M596.5 530v2M597.5 532v2M598.5 532v1M599.5 530v2M600.5 528v5M601.5 526v3M602.5 529v4M603.5 530v2M604.5 530v1M605.5 528v2M606.5 527v2M607.5 527v4M608.5 523v10M609.5 529v3M610.5 526v3M611.5 528v3M612.5 530v1M613.5 531v2M614.5 533v2M615.5 530v3M616.5 528v7M617.5 530v3M618.5 530v1M619.5 529v1M620.5 530v1M621.5 529v1M622.5 530v1M623.5 530v5M624.5 530v3M625.5 530v1M626.5 530v3M627.5 526v4M628.5 528v3M629.5 530v1M630.5 530v1M631.5 527v4M632.5 530v4M633.5 532v2M634.5 530v2M635.5 528v3M636.5 525v3M637.5 528v4M638.5 532v3M639.5 529v4M640.5 528v1M641.5 528v4M642.5 532v4M643.5 530v3M644.5 527v4M645.5 523v5M646.5 528v6M647.5 530v2M648.5 530v1M649.5 530v1M650.5 530v2M651.5 532v3M652.5 532v2M653.5 530v2M654.5 530v3M655.5 526v6M656.5 521v5M657.5 526v5M658.5 529v2M659.5 527v3M660.5 530v4M661.5 533v1M662.5 530v6M663.5 530v1M664.5 529v2M665.5 530v3M666.5 526v4M667.5 530v4M668.5 530v2M669.5 532v3M670.5 530v4M671.5 530v3M672.5 527v3M673.5 529v2M674.5 530v3M675.5 533v3M676.5 530v3M677.5 530v1M678.5 530v3M679.5 533v3M680.5 530v3M681.5 531v1M682.5 527v4M683.5 523v4M684.5 527v6M685.5 521v14M686.5 526v6M687.5 532v3M688.5 530v3M689.5 532v3M690.5 530v3M691.5 530v3M692.5 533v3M693.5 530v5M694.5 532v4M695.5 527v5M696.5 527v2M697.5 529v2M698.5 530v1M699.5 528v2M700.5 530v2M701.5 530v4M702.5 530v1M703.5 530v1M704.5 530v1M705.5 530v1M706.5 530v1M707.5 530v1M708.5 530v1M709.5 530v1M710.5 530v1M711.5 530v1M712.5 529v1M713.5 530v1M714.5 530v1M715.5 530v1M716.5 530v2M717.5 532v2M718.5 533v1M719.5 531v2M720.5 532v2M721.5 532v4M722.5 528v4M723.5 529v2M724.5 529v3M725.5 526v4M726.5 530v4M727.5 530v2M728.5 528v3M729.5 531v3M730.5 533v2M731.5 529v4M732.5 526v5M733.5 527v2M734.5 529v2M735.5 531v2M736.5 532v2M737.5 534v2M738.5 532v2M739.5 520v12M740.5 524v5M741.5 529v2M742.5 529v1M743.5 527v2M744.5 526v2M745.5 528v3M746.5 529v1M747.5 528v3M748.5 527v4M749.5 522v5M750.5 526v5M751.5 530v2M752.5 532v3M753.5 527v7M754.5 519v8M755.5 525v8M756.5 526v5M757.5 531v5M758.5 525v7M759.5 521v5M760.5 526v5M761.5 530v1M762.5 530v1M763.5 530v2M764.5 532v3M765.5 526v7M766.5 521v5M767.5 524v5M768.5 529v3M769.5 532v2M770.5 529v7M771.5 533v3M772.5 526v7M773.5 521v7M774.5 528v7M775.5 532v2M776.5 530v2M777.5 530v2M778.5 521v13M779.5 525v6M780.5 531v3M781.5 531v2M782.5 529v2M783.5 526v3M784.5 528v3M785.5 530v1M786.5 528v5M787.5 527v4M788.5 523v4M789.5 525v3M790.5 528v3M791.5 530v3M792.5 533v3M793.5 502v32M794.5 516v15M795.5 530v2M796.5 531v3M797.5 527v4M798.5 531v4M799.5 533v2M800.5 530v3M801.5 529v2M802.5 530v1M803.5 530v1M804.5 530v3M805.5 527v3M806.5 529v2M807.5 530v1M808.5 530v1M809.5 524v7M810.5 522v4M811.5 526v5M812.5 530v2M813.5 532v3M814.5 530v3M815.5 530v1M816.5 530v1M817.5 529v2M818.5 530v1M819.5 523v7M820.5 516v7M821.5 521v7M822.5 528v3M823.5 530v2M824.5 529v6M825.5 530v2M826.5 532v3M827.5 533v2M828.5 530v3M829.5 532v2M830.5 532v1M831.5 530v2M832.5 530v4M833.5 531v4M834.5 527v4M835.5 528v2M836.5 530v3M837.5 532v1M838.5 530v2M839.5 530v1M840.5 529v2M841.5 530v1M842.5 531v2M843.5 532v2M844.5 534v2M845.5 533v2M846.5 527v6M847.5 523v11M848.5 527v5M849.5 522v5M850.5 526v5M851.5 530v2M852.5 528v2M853.5 529v2M854.5 530v1M855.5 530v2M856.5 532v3M857.5 533v3M858.5 529v4M859.5 527v3M860.5 530v3M861.5 530v2M862.5 530v2M863.5 530v5M864.5 531v2M865.5 530v2M866.5 529v1M867.5 529v1M868.5 530v2M869.5 532v3M870.5 528v4M871.5 529v2M872.5 530v1M873.5 530v3M874.5 533v3M875.5 530v3M876.5 529v2M877.5 527v4M878.5 526v9M879.5 520v6M880.5 525v6M881.5 530v1M882.5 530v1M883.5 530v1M884.5 530v1M885.5 530v1M886.5 530v1M887.5 528v2M888.5 529v2M889.5 526v5M890.5 521v5M891.5 526v5M892.5 531v3M893.5 534v2M894.5 530v5M895.5 530v1M896.5 527v5M897.5 521v6M898.5 526v6M899.5 532v2M900.5 530v2M901.5 528v2M902.5 526v6M903.5 526v3M904.5 529v3M905.5 530v1M906.5 530v2M907.5 532v2M908.5 531v2M909.5 527v7M910.5 522v5M911.5 526v7M912.5 533v3M913.5 530v3M914.5 530v1M915.5 530v1M916.5 530v3M917.5 528v8M918.5 529v2M919.5 530v1M920.5 530v1M921.5 528v2M922.5 529v2M923.5 529v2M924.5 527v2M925.5 529v2M926.5 531v2M927.5 530v2M928.5 530v2M929.5 532v2M930.5 533v1M931.5 533v2M932.5 529v4M933.5 530v1M934.5 530v1M935.5 528v2M936.5 526v2M937.5 528v3M938.5 530v1M939.5 528v2M940.5 529v3M941.5 532v2M942.5 530v2M943.5 530v1M944.5 531v3M945.5 533v3M946.5 530v3M947.5 531v1M948.5 530v2M949.5 532v3M950.5 530v3M951.5 530v1M952.5 531v2M953.5 530v2M954.5 530v1M955.5 530v1M956.5 529v5M957.5 523v6M958.5 527v6M959.5 533v3M960.5 530v3M961.5 530v2M962.5 531v3M963.5 528v6M964.5 521v7M965.5 526v5M966.5 530v1M967.5 531v2M968.5 530v2M969.5 528v2M970.5 529v4M971.5 530v6M972.5 531v3M973.5 533v3M974.5 527v6M975.5 523v4M976.5 526v4M977.5 530v1M978.5 530v2M979.5 530v5M980.5 528v7M981.5 521v7M982.5 526v5M983.5 529v2M984.5 531v3M985.5 530v2M986.5 530v1M987.5 529v2M988.5 529v2M989.5 526v3M990.5 525v3M991.5 528v3M992.5 527v4M993.5 522v5M994.5 526v10M995.5 530v3M996.5 526v5M997.5 520v6M998.5 525v6M999.5 531v2M1000.5 530v2M1001.5 529v1M1002.5 530v2M1003.5 531v2M1004.5 530v2M1005.5 530v5M1006.5 524v6M1007.5 528v5M1008.5 530v2M1009.5 531v2M1010.5 530v4M1011.5 530v3M1012.5 533v3M1013.5 530v3M1014.5 532v3M1015.5 529v3M1016.5 530v1M1017.5 530v1M1018.5 530v1M1019.5 530v1M1020.5 530v1M1021.5 530v1M1022.5 531v2M1023.5 530v2M1024.5 532v3M1025.5 530v3M1026.5 531v2M1027.5 530v2M1028.5 528v2M1029.5 530v3M1030.5 530v2M1031.5 532v3M1032.5 535v1M1033.5 529v6M1034.5 526v3M1035.5 528v3M1036.5 530v1M1037.5 530v1M1038.5 530v2M1039.5 532v2M1040.5 530v2M1041.5 529v2M1042.5 530v2M1043.5 530v2M1044.5 532v3M1045.5 529v3M1046.5 530v2M1047.5 532v1M1048.5 530v2M1049.5 531v2M1050.5 533v2M1051.5 532v2M1052.5 533v2M1053.5 529v7M1054.5 522v7M1055.5 526v5M1056.5 528v5M1057.5 522v6M1058.5 528v6M1059.5 529v3M1060.5 526v3M1061.5 528v4M1062.5 532v3M1063.5 530v3M1064.5 530v4M1065.5 533v3M1066.5 530v3M1067.5 530v1M1068.5 530v1M1069.5 530v1M1070.5 530v1M1071.5 530v1M1072.5 530v1M1073.5 530v3M1074.5 533v3M1075.5 530v3M1076.5 531v2M1077.5 533v3M1078.5 530v3M1079.5 529v4M1080.5 528v3M1081.5 529v3M1082.5 532v2M1083.5 531v3M1084.5 527v4M1085.5 529v2M1086.5 530v1M1087.5 530v1M1088.5 530v1M1089.5 530v1M1090.5 529v2M1091.5 526v3M1092.5 527v1M1093.5 528v3M1094.5 531v3M1095.5 530v5M1096.5 530v2M1097.5 527v3M1098.5 529v2M1099.5 530v2M1100.5 532v3M1101.5 530v3M1102.5 530v4M1103.5 530v2M1104.5 530v2M1105.5 532v3M1106.5 530v3M1107.5 528v2M1108.5 529v2M1109.5 526v3M1110.5 528v5M1111.5 532v1M1112.5 530v2M1113.5 532v3M1114.5 533v2M1115.5 530v3M1116.5 530v2M1117.5 532v2M1118.5 529v3M1119.5 527v2M1120.5 529v3M1121.5 532v2M1122.5 530v2M1123.5 530v1M1124.5 530v1M1125.5 530v1M1126.5 530v3M1127.5 531v3M1128.5 527v4M1129.5 527v2M1130.5 529v2M1131.5 530v1M1132.5 530v1M1133.5 530v3M1134.5 530v2M1135.5 532v2M1136.5 530v3M1137.5 527v3M1138.5 529v3M1139.5 532v2M1140.5 530v2M1141.5 530v1M1142.5 530v1M1143.5 530v1M1144.5 531v1M1145.5 529v2M1146.5 530v2M1147.5 530v1M1148.5 529v2M1149.5 526v5M1150.5 530v1M1151.5 530v1M1152.5 530v1M1153.5 531v1M1154.5 530v1M1155.5 531v2M1156.5 533v2M1157.5 530v3M1158.5 532v2M1159.5 527v5M1160.5 523v5M1161.5 528v6M1162.5 530v2M1163.5 530v1M1164.5 528v3M1165.5 530v2M1166.5 531v3M1167.5 528v3M1168.5 529v2M1169.5 527v2M1170.5 527v2M1171.5 529v2M1172.5 530v3M1173.5 530v2M1174.5 530v2M1175.5 532v2M1176.5 532v1M1177.5 529v3M1178.5 527v2M1179.5 529v2M1180.5 530v1M1181.5 529v1M1182.5 530v1M1183.5 530v1M1184.5 530v1M1185.5 530v3M1186.5 533v3M1187.5 530v3M1188.5 530v2M1189.5 529v2M1190.5 531v2M1191.5 533v2M1192.5 531v2M1193.5 532v2M1194.5 527v6M1195.5 522v9M1196.5 530v2M1197.5 532v2M1198.5 530v2M1199.5 532v2M1200.5 533v2M1201.5 530v3M1202.5 530v1M1203.5 530v1M1204.5 530v1M1205.5 530v1M1206.5 530v1M1207.5 530v1M1208.5 530v2M1209.5 532v3M1210.5 532v2M1211.5 527v5M1212.5 528v1M1213.5 529v2M1214.5 527v2M1215.5 529v2M1216.5 528v2M1217.5 530v3M1218.5 530v3M1219.5 529v2M1220.5 530v1M1221.5 530v1M1222.5 528v3M1223.5 524v4M1224.5 527v6M1225.5 533v3M1226.5 530v3M1227.5 529v2M1228.5 527v3M1229.5 530v4M1230.5 530v2M1231.5 530v1M1232.5 530v1M1233.5 530v1M1234.5 526v5M1235.5 528v3M1236.5 528v2M1237.5 529v2M1238.5 530v1M1239.5 529v2M1240.5 527v2M1241.5 529v2M1242.5 529v2M1243.5 527v6M1244.5 520v7M1245.5 526v7M1246.5 533v2M1247.5 531v4M1248.5 527v4M1249.5 529v4M1250.5 530v2M1251.5 530v1M1252.5 530v1M1253.5 530v1M1254.5 530v1M1255.5 530v1M1256.5 530v1M1257.5 527v4M1258.5 529v4M1259.5 533v3M1260.5 530v3M1261.5 530v1M1262.5 530v2M1263.5 532v2M1264.5 530v2M1265.5 530v3M1266.5 533v3M1267.5 530v3M1268.5 529v2M1269.5 526v4M1270.5 530v4M1271.5 530v2M1272.5 530v3M1273.5 532v1M1274.5 530v2M1275.5 530v1M1276.5 531v2M1277.5 530v2M1278.5 530v1M1279.5 530v1M1280.5 530v2M1281.5 532v2M1282.5 530v2M1283.5 530v1M1284.5 530v2M1285.5 532v3M1286.5 530v3M1287.5 531v2M1288.5 528v5M1289.5 533v3M1290.5 530v3M1291.5 531v3M1292.5 533v3M1293.5 530v3M1294.5 531v2M1295.5 530v2M1296.5 529v2M1297.5 530v2M1298.5 532v2M1299.5 530v2M1300.5 530v1M1301.5 531v2M1302.5 530v2M1303.5 530v4M1304.5 530v2M1305.5 530v1M1306.5 530v1M1307.5 530v1M1308.5 530v1M1309.5 528v3M1310.5 531v3M1311.5 527v4M1312.5 529v2M1313.5 529v1M1314.5 530v1M1315.5 530v1M1316.5 529v2M1317.5 527v2M1318.5 529v4M1319.5 528v8M1320.5 529v2M1321.5 530v1M1322.5 530v1M1323.5 530v3M1324.5 527v3M1325.5 529v3M1326.5 532v3M1327.5 530v3M1328.5 529v3M1329.5 525v4M1330.5 528v3M1331.5 530v1M1332.5 530v1M1333.5 530v1M1334.5 530v1M1335.5 530v2M1336.5 532v3M1337.5 528v4M1338.5 530v3M1339.5 532v1M1340.5 530v2M1341.5 530v1M1342.5 530v1M1343.5 530v2M1344.5 532v2M1345.5 531v4M1346.5 527v4M1347.5 529v2M1348.5 529v2M1349.5 531v2M1350.5 530v2M1351.5 530v1M1352.5 528v2M1353.5 529v3M1354.5 532v3M1355.5 528v4M1356.5 531v4M1357.5 530v4M1358.5 530v2M1359.5 531v3M1360.5 528v3M1361.5 530v3M1362.5 529v2M1363.5 530v1M1364.5 530v1M1365.5 530v1M1366.5 530v1M1367.5 531v1M1368.5 531v1" stroke="#56b4e9" stroke-width="1" fill="none"/>
</g>
<g shape-rendering="crispEdges">
<rect x="194.5" y="427.5" width="12" height="12" fill="none" stroke="#e69f00" stroke-width="1"/>
<rect x="194" y="481" width="13" height="13" fill="#f0e442"/>
<rect x="432" y="481" width="13" height="13" fill="#f0e442"/>
<rect x="440" y="481" width="13" height="13" fill="#f0e442"/>
<path d="M93 493h1v1h-1zM94 493h1v1h-1zM95 493h1v1h-1zM96 493h1v1h-1zM97 493h1v1h-1zM98 493h1v1h-1zM99 493h1v1h-1zM93 503h1v1h-1zM94 503h1v1h-1zM95 503h1v1h-1zM96 503h1v1h-1zM97 503h1v1h-1zM98 503h1v1h-1zM99 503h1v1h-1zM92 494h1v1h-1zM92 502h1v1h-1zM93 494h1v1h-1zM93 502h1v1h-1zM99 494h1v1h-1zM99 502h1v1h-1zM100 494h1v1h-1zM100 502h1v1h-1zM91 495h1v1h-1zM91 501h1v1h-1zM92 495h1v1h-1zM92 501h1v1h-1zM100 495h1v1h-1zM100 501h1v1h-1zM101 495h1v1h-1zM101 501h1v1h-1zM91 496h1v1h-1zM101 496h1v1h-1zM91 497h1v1h-1zM101 497h1v1h-1zM91 498h1v1h-1zM101 498h1v1h-1zM91 499h1v1h-1zM101 499h1v1h-1zM91 500h1v1h-1zM101 500h1v1h-1zM96 492h1v1h-1zM96 504h1v1h-1zM90 498h1v1h-1zM102 498h1v1h-1z" fill="#0072b2"/>
<path d="M141 503h1v1h-1zM142 503h1v1h-1zM143 503h1v1h-1zM144 503h1v1h-1zM145 503h1v1h-1zM146 503h1v1h-1zM147 503h1v1h-1zM141 513h1v1h-1zM142 513h1v1h-1zM143 513h1v1h-1zM144 513h1v1h-1zM145 513h1v1h-1zM146 513h1v1h-1zM147 513h1v1h-1zM140 504h1v1h-1zM140 512h1v1h-1zM141 504h1v1h-1zM141 512h1v1h-1zM147 504h1v1h-1zM147 512h1v1h-1zM148 504h1v1h-1zM148 512h1v1h-1zM139 505h1v1h-1zM139 511h1v1h-1zM140 505h1v1h-1zM140 511h1v1h-1zM148 505h1v1h-1zM148 511h1v1h-1zM149 505h1v1h-1zM149 511h1v1h-1zM139 506h1v1h-1zM149 506h1v1h-1zM139 507h1v1h-1zM149 507h1v1h-1zM139 508h1v1h-1zM149 508h1v1h-1zM139 509h1v1h-1zM149 509h1v1h-1zM139 510h1v1h-1zM149 510h1v1h-1zM144 502h1v1h-1zM144 514h1v1h-1zM138 508h1v1h-1zM150 508h1v1h-1z" fill="#0072b2"/>
<path d="M199 499h1v1h-1zM200 499h1v1h-1zM201 499h1v1h-1zM202 499h1v1h-1zM203 499h1v1h-1zM204 499h1v1h-1zM205 499h1v1h-1zM199 509h1v1h-1zM200 509h1v1h-1zM201 509h1v1h-1zM202 509h1v1h-1zM203 509h1v1h-1zM204 509h1v1h-1zM205 509h1v1h-1zM198 500h1v1h-1zM198 508h1v1h-1zM199 500h1v1h-1zM199 508h1v1h-1zM205 500h1v1h-1zM205 508h1v1h-1zM206 500h1v1h-1zM206 508h1v1h-1zM197 501h1v1h-1zM197 507h1v1h-1zM198 501h1v1h-1zM198 507h1v1h-1zM206 501h1v1h-1zM206 507h1v1h-1zM207 501h1v1h-1zM207 507h1v1h-1zM197 502h1v1h-1zM207 502h1v1h-1zM197 503h1v1h-1zM207 503h1v1h-1zM197 504h1v1h-1zM207 504h1v1h-1zM197 505h1v1h-1zM207 505h1v1h-1zM197 506h1v1h-1zM207 506h1v1h-1zM202 498h1v1h-1zM202 510h1v1h-1zM196 504h1v1h-1zM208 504h1v1h-1z" fill="#0072b2"/>
<path d="M246 501h1v1h-1zM247 501h1v1h-1zM248 501h1v1h-1zM249 501h1v1h-1zM250 501h1v1h-1zM251 501h1v1h-1zM252 501h1v1h-1zM246 511h1v1h-1zM247 511h1v1h-1zM248 511h1v1h-1zM249 511h1v1h-1zM250 511h1v1h-1zM251 511h1v1h-1zM252 511h1v1h-1zM245 502h1v1h-1zM245 510h1v1h-1zM246 502h1v1h-1zM246 510h1v1h-1zM252 502h1v1h-1zM252 510h1v1h-1zM253 502h1v1h-1zM253 510h1v1h-1zM244 503h1v1h-1zM244 509h1v1h-1zM245 503h1v1h-1zM245 509h1v1h-1zM253 503h1v1h-1zM253 509h1v1h-1zM254 503h1v1h-1zM254 509h1v1h-1zM244 504h1v1h-1zM254 504h1v1h-1zM244 505h1v1h-1zM254 505h1v1h-1zM244 506h1v1h-1zM254 506h1v1h-1zM244 507h1v1h-1zM254 507h1v1h-1zM244 508h1v1h-1zM254 508h1v1h-1zM249 500h1v1h-1zM249 512h1v1h-1zM243 506h1v1h-1zM255 506h1v1h-1z" fill="#0072b2"/>
<path d="M252 493h1v1h-1zM253 493h1v1h-1zM254 493h1v1h-1zM255 493h1v1h-1zM256 493h1v1h-1zM257 493h1v1h-1zM258 493h1v1h-1zM252 503h1v1h-1zM253 503h1v1h-1zM254 503h1v1h-1zM255 503h1v1h-1zM256 503h1v1h-1zM257 503h1v1h-1zM258 503h1v1h-1zM251 494h1v1h-1zM251 502h1v1h-1zM252 494h1v1h-1zM252 502h1v1h-1zM258 494h1v1h-1zM258 502h1v1h-1zM259 494h1v1h-1zM259 502h1v1h-1zM250 495h1v1h-1zM250 501h1v1h-1zM251 495h1v1h-1zM251 501h1v1h-1zM259 495h1v1h-1zM259 501h1v1h-1zM260 495h1v1h-1zM260 501h1v1h-1zM250 496h1v1h-1zM260 496h1v1h-1zM250 497h1v1h-1zM260 497h1v1h-1zM250 498h1v1h-1zM260 498h1v1h-1zM250 499h1v1h-1zM260 499h1v1h-1zM250 500h1v1h-1zM260 500h1v1h-1zM255 492h1v1h-1zM255 504h1v1h-1zM249 498h1v1h-1zM261 498h1v1h-1z" fill="#0072b2"/>
<path d="M299 501h1v1h-1zM300 501h1v1h-1zM301 501h1v1h-1zM302 501h1v1h-1zM303 501h1v1h-1zM304 501h1v1h-1zM305 501h1v1h-1zM299 511h1v1h-1zM300 511h1v1h-1zM301 511h1v1h-1zM302 511h1v1h-1zM303 511h1v1h-1zM304 511h1v1h-1zM305 511h1v1h-1zM298 502h1v1h-1zM298 510h1v1h-1zM299 502h1v1h-1zM299 510h1v1h-1zM305 502h1v1h-1zM305 510h1v1h-1zM306 502h1v1h-1zM306 510h1v1h-1zM297 503h1v1h-1zM297 509h1v1h-1zM298 503h1v1h-1zM298 509h1v1h-1zM306 503h1v1h-1zM306 509h1v1h-1zM307 503h1v1h-1zM307 509h1v1h-1zM297 504h1v1h-1zM307 504h1v1h-1zM297 505h1v1h-1zM307 505h1v1h-1zM297 506h1v1h-1zM307 506h1v1h-1zM297 507h1v1h-1zM307 507h1v1h-1zM297 508h1v1h-1zM307 508h1v1h-1zM302 500h1v1h-1zM302 512h1v1h-1zM296 506h1v1h-1zM308 506h1v1h-1z" fill="#0072b2"/>
<path d="M306 493h1v1h-1zM307 493h1v1h-1zM308 493h1v1h-1zM309 493h1v1h-1zM310 493h1v1h-1zM311 493h1v1h-1zM312 493h1v1h-1zM306 503h1v1h-1zM307 503h1v1h-1zM308 503h1v1h-1zM309 503h1v1h-1zM310 503h1v1h-1zM311 503h1v1h-1zM312 503h1v1h-1zM305 494h1v1h-1zM305 502h1v1h-1zM306 494h1v1h-1zM306 502h1v1h-1zM312 494h1v1h-1zM312 502h1v1h-1zM313 494h1v1h-1zM313 502h1v1h-1zM304 495h1v1h-1zM304 501h1v1h-1zM305 495h1v1h-1zM305 501h1v1h-1zM313 495h1v1h-1zM313 501h1v1h-1zM314 495h1v1h-1zM314 501h1v1h-1zM304 496h1v1h-1zM314 496h1v1h-1zM304 497h1v1h-1zM314 497h1v1h-1zM304 498h1v1h-1zM314 498h1v1h-1zM304 499h1v1h-1zM314 499h1v1h-1zM304 500h1v1h-1zM314 500h1v1h-1zM309 492h1v1h-1zM309 504h1v1h-1zM303 498h1v1h-1zM315 498h1v1h-1z" fill="#0072b2"/>
<path d="M353 494h1v1h-1zM354 494h1v1h-1zM355 494h1v1h-1zM356 494h1v1h-1zM357 494h1v1h-1zM358 494h1v1h-1zM359 494h1v1h-1zM353 504h1v1h-1zM354 504h1v1h-1zM355 504h1v1h-1zM356 504h1v1h-1zM357 504h1v1h-1zM358 504h1v1h-1zM359 504h1v1h-1zM352 495h1v1h-1zM352 503h1v1h-1zM353 495h1v1h-1zM353 503h1v1h-1zM359 495h1v1h-1zM359 503h1v1h-1zM360 495h1v1h-1zM360 503h1v1h-1zM351 496h1v1h-1zM351 502h1v1h-1zM352 496h1v1h-1zM352 502h1v1h-1zM360 496h1v1h-1zM360 502h1v1h-1zM361 496h1v1h-1zM361 502h1v1h-1zM351 497h1v1h-1zM361 497h1v1h-1zM351 498h1v1h-1zM361 498h1v1h-1zM351 499h1v1h-1zM361 499h1v1h-1zM351 500h1v1h-1zM361 500h1v1h-1zM351 501h1v1h-1zM361 501h1v1h-1zM356 493h1v1h-1zM356 505h1v1h-1zM350 499h1v1h-1zM362 499h1v1h-1z" fill="#0072b2"/>
<path d="M359 491h1v1h-1zM360 491h1v1h-1zM361 491h1v1h-1zM362 491h1v1h-1zM363 491h1v1h-1zM364 491h1v1h-1zM365 491h1v1h-1zM359 501h1v1h-1zM360 501h1v1h-1zM361 501h1v1h-1zM362 501h1v1h-1zM363 501h1v1h-1zM364 501h1v1h-1zM365 501h1v1h-1zM358 492h1v1h-1zM358 500h1v1h-1zM359 492h1v1h-1zM359 500h1v1h-1zM365 492h1v1h-1zM365 500h1v1h-1zM366 492h1v1h-1zM366 500h1v1h-1zM357 493h1v1h-1zM357 499h1v1h-1zM358 493h1v1h-1zM358 499h1v1h-1zM366 493h1v1h-1zM366 499h1v1h-1zM367 493h1v1h-1zM367 499h1v1h-1zM357 494h1v1h-1zM367 494h1v1h-1zM357 495h1v1h-1zM367 495h1v1h-1zM357 496h1v1h-1zM367 496h1v1h-1zM357 497h1v1h-1zM367 497h1v1h-1zM357 498h1v1h-1zM367 498h1v1h-1zM362 490h1v1h-1zM362 502h1v1h-1zM356 496h1v1h-1zM368 496h1v1h-1z" fill="#0072b2"/>
<path d="M405 501h1v1h-1zM406 501h1v1h-1zM407 501h1v1h-1zM408 501h1v1h-1zM409 501h1v1h-1zM410 501h1v1h-1zM411 501h1v1h-1zM405 511h1v1h-1zM406 511h1v1h-1zM407 511h1v1h-1zM408 511h1v1h-1zM409 511h1v1h-1zM410 511h1v1h-1zM411 511h1v1h-1zM404 502h1v1h-1zM404 510h1v1h-1zM405 502h1v1h-1zM405 510h1v1h-1zM411 502h1v1h-1zM411 510h1v1h-1zM412 502h1v1h-1zM412 510h1v1h-1zM403 503h1v1h-1zM403 509h1v1h-1zM404 503h1v1h-1zM404 509h1v1h-1zM412 503h1v1h-1zM412 509h1v1h-1zM413 503h1v1h-1zM413 509h1v1h-1zM403 504h1v1h-1zM413 504h1v1h-1zM403 505h1v1h-1zM413 505h1v1h-1zM403 506h1v1h-1zM413 506h1v1h-1zM403 507h1v1h-1zM413 507h1v1h-1zM403 508h1v1h-1zM413 508h1v1h-1zM408 500h1v1h-1zM408 512h1v1h-1zM402 506h1v1h-1zM414 506h1v1h-1z" fill="#0072b2"/>
<path d="M413 501h1v1h-1zM414 501h1v1h-1zM415 501h1v1h-1zM416 501h1v1h-1zM417 501h1v1h-1zM418 501h1v1h-1zM419 501h1v1h-1zM413 511h1v1h-1zM414 511h1v1h-1zM415 511h1v1h-1zM416 511h1v1h-1zM417 511h1v1h-1zM418 511h1v1h-1zM419 511h1v1h-1zM412 502h1v1h-1zM412 510h1v1h-1zM413 502h1v1h-1zM413 510h1v1h-1zM419 502h1v1h-1zM419 510h1v1h-1zM420 502h1v1h-1zM420 510h1v1h-1zM411 503h1v1h-1zM411 509h1v1h-1zM412 503h1v1h-1zM412 509h1v1h-1zM420 503h1v1h-1zM420 509h1v1h-1zM421 503h1v1h-1zM421 509h1v1h-1zM411 504h1v1h-1zM421 504h1v1h-1zM411 505h1v1h-1zM421 505h1v1h-1zM411 506h1v1h-1zM421 506h1v1h-1zM411 507h1v1h-1zM421 507h1v1h-1zM411 508h1v1h-1zM421 508h1v1h-1zM416 500h1v1h-1zM416 512h1v1h-1zM410 506h1v1h-1zM422 506h1v1h-1z" fill="#0072b2"/>
<path d="M458 500h1v1h-1zM459 500h1v1h-1zM460 500h1v1h-1zM461 500h1v1h-1zM462 500h1v1h-1zM463 500h1v1h-1zM464 500h1v1h-1zM458 510h1v1h-1zM459 510h1v1h-1zM460 510h1v1h-1zM461 510h1v1h-1zM462 510h1v1h-1zM463 510h1v1h-1zM464 510h1v1h-1zM457 501h1v1h-1zM457 509h1v1h-1zM458 501h1v1h-1zM458 509h1v1h-1zM464 501h1v1h-1zM464 509h1v1h-1zM465 501h1v1h-1zM465 509h1v1h-1zM456 502h1v1h-1zM456 508h1v1h-1zM457 502h1v1h-1zM457 508h1v1h-1zM465 502h1v1h-1zM465 508h1v1h-1zM466 502h1v1h-1zM466 508h1v1h-1zM456 503h1v1h-1zM466 503h1v1h-1zM456 504h1v1h-1zM466 504h1v1h-1zM456 505h1v1h-1zM466 505h1v1h-1zM456 506h1v1h-1zM466 506h1v1h-1zM456 507h1v1h-1zM466 507h1v1h-1zM461 499h1v1h-1zM461 511h1v1h-1zM455 505h1v1h-1zM467 505h1v1h-1z" fill="#0072b2"/>
<path d="M466 499h1v1h-1zM467 499h1v1h-1zM468 499h1v1h-1zM469 499h1v1h-1zM470 499h1v1h-1zM471 499h1v1h-1zM472 499h1v1h-1zM466 509h1v1h-1zM467 509h1v1h-1zM468 509h1v1h-1zM469 509h1v1h-1zM470 509h1v1h-1zM471 509h1v1h-1zM472 509h1v1h-1zM465 500h1v1h-1zM465 508h1v1h-1zM466 500h1v1h-1zM466 508h1v1h-1zM472 500h1v1h-1zM472 508h1v1h-1zM473 500h1v1h-1zM473 508h1v1h-1zM464 501h1v1h-1zM464 507h1v1h-1zM465 501h1v1h-1zM465 507h1v1h-1zM473 501h1v1h-1zM473 507h1v1h-1zM474 501h1v1h-1zM474 507h1v1h-1zM464 502h1v1h-1zM474 502h1v1h-1zM464 503h1v1h-1zM474 503h1v1h-1zM464 504h1v1h-1zM474 504h1v1h-1zM464 505h1v1h-1zM474 505h1v1h-1zM464 506h1v1h-1zM474 506h1v1h-1zM469 498h1v1h-1zM469 510h1v1h-1zM463 504h1v1h-1zM475 504h1v1h-1z" fill="#0072b2"/>
<path d="M512 493h1v1h-1zM513 493h1v1h-1zM514 493h1v1h-1zM515 493h1v1h-1zM516 493h1v1h-1zM517 493h1v1h-1zM518 493h1v1h-1zM512 503h1v1h-1zM513 503h1v1h-1zM514 503h1v1h-1zM515 503h1v1h-1zM516 503h1v1h-1zM517 503h1v1h-1zM518 503h1v1h-1zM511 494h1v1h-1zM511 502h1v1h-1zM512 494h1v1h-1zM512 502h1v1h-1zM518 494h1v1h-1zM518 502h1v1h-1zM519 494h1v1h-1zM519 502h1v1h-1zM510 495h1v1h-1zM510 501h1v1h-1zM511 495h1v1h-1zM511 501h1v1h-1zM519 495h1v1h-1zM519 501h1v1h-1zM520 495h1v1h-1zM520 501h1v1h-1zM510 496h1v1h-1zM520 496h1v1h-1zM510 497h1v1h-1zM520 497h1v1h-1zM510 498h1v1h-1zM520 498h1v1h-1zM510 499h1v1h-1zM520 499h1v1h-1zM510 500h1v1h-1zM520 500h1v1h-1zM515 492h1v1h-1zM515 504h1v1h-1zM509 498h1v1h-1zM521 498h1v1h-1z" fill="#0072b2"/>
<path d="M518 498h1v1h-1zM519 498h1v1h-1zM520 498h1v1h-1zM521 498h1v1h-1zM522 498h1v1h-1zM523 498h1v1h-1zM524 498h1v1h-1zM518 508h1v1h-1zM519 508h1v1h-1zM520 508h1v1h-1zM521 508h1v1h-1zM522 508h1v1h-1zM523 508h1v1h-1zM524 508h1v1h-1zM517 499h1v1h-1zM517 507h1v1h-1zM518 499h1v1h-1zM518 507h1v1h-1zM524 499h1v1h-1zM524 507h1v1h-1zM525 499h1v1h-1zM525 507h1v1h-1zM516 500h1v1h-1zM516 506h1v1h-1zM517 500h1v1h-1zM517 506h1v1h-1zM525 500h1v1h-1zM525 506h1v1h-1zM526 500h1v1h-1zM526 506h1v1h-1zM516 501h1v1h-1zM526 501h1v1h-1zM516 502h1v1h-1zM526 502h1v1h-1zM516 503h1v1h-1zM526 503h1v1h-1zM516 504h1v1h-1zM526 504h1v1h-1zM516 505h1v1h-1zM526 505h1v1h-1zM521 497h1v1h-1zM521 509h1v1h-1zM515 503h1v1h-1zM527 503h1v1h-1z" fill="#0072b2"/>
<path d="M571 491h1v1h-1zM572 491h1v1h-1zM573 491h1v1h-1zM574 491h1v1h-1zM575 491h1v1h-1zM576 491h1v1h-1zM577 491h1v1h-1zM571 501h1v1h-1zM572 501h1v1h-1zM573 501h1v1h-1zM574 501h1v1h-1zM575 501h1v1h-1zM576 501h1v1h-1zM577 501h1v1h-1zM570 492h1v1h-1zM570 500h1v1h-1zM571 492h1v1h-1zM571 500h1v1h-1zM577 492h1v1h-1zM577 500h1v1h-1zM578 492h1v1h-1zM578 500h1v1h-1zM569 493h1v1h-1zM569 499h1v1h-1zM570 493h1v1h-1zM570 499h1v1h-1zM578 493h1v1h-1zM578 499h1v1h-1zM579 493h1v1h-1zM579 499h1v1h-1zM569 494h1v1h-1zM579 494h1v1h-1zM569 495h1v1h-1zM579 495h1v1h-1zM569 496h1v1h-1zM579 496h1v1h-1zM569 497h1v1h-1zM579 497h1v1h-1zM569 498h1v1h-1zM579 498h1v1h-1zM574 490h1v1h-1zM574 502h1v1h-1zM568 496h1v1h-1zM580 496h1v1h-1z" fill="#0072b2"/>
<path d="M618 491h1v1h-1zM619 491h1v1h-1zM620 491h1v1h-1zM621 491h1v1h-1zM622 491h1v1h-1zM623 491h1v1h-1zM624 491h1v1h-1zM618 501h1v1h-1zM619 501h1v1h-1zM620 501h1v1h-1zM621 501h1v1h-1zM622 501h1v1h-1zM623 501h1v1h-1zM624 501h1v1h-1zM617 492h1v1h-1zM617 500h1v1h-1zM618 492h1v1h-1zM618 500h1v1h-1zM624 492h1v1h-1zM624 500h1v1h-1zM625 492h1v1h-1zM625 500h1v1h-1zM616 493h1v1h-1zM616 499h1v1h-1zM617 493h1v1h-1zM617 499h1v1h-1zM625 493h1v1h-1zM625 499h1v1h-1zM626 493h1v1h-1zM626 499h1v1h-1zM616 494h1v1h-1zM626 494h1v1h-1zM616 495h1v1h-1zM626 495h1v1h-1zM616 496h1v1h-1zM626 496h1v1h-1zM616 497h1v1h-1zM626 497h1v1h-1zM616 498h1v1h-1zM626 498h1v1h-1zM621 490h1v1h-1zM621 502h1v1h-1zM615 496h1v1h-1zM627 496h1v1h-1z" fill="#0072b2"/>
<path d="M625 488h1v1h-1zM626 488h1v1h-1zM627 488h1v1h-1zM628 488h1v1h-1zM629 488h1v1h-1zM630 488h1v1h-1zM631 488h1v1h-1zM625 498h1v1h-1zM626 498h1v1h-1zM627 498h1v1h-1zM628 498h1v1h-1zM629 498h1v1h-1zM630 498h1v1h-1zM631 498h1v1h-1zM624 489h1v1h-1zM624 497h1v1h-1zM625 489h1v1h-1zM625 497h1v1h-1zM631 489h1v1h-1zM631 497h1v1h-1zM632 489h1v1h-1zM632 497h1v1h-1zM623 490h1v1h-1zM623 496h1v1h-1zM624 490h1v1h-1zM624 496h1v1h-1zM632 490h1v1h-1zM632 496h1v1h-1zM633 490h1v1h-1zM633 496h1v1h-1zM623 491h1v1h-1zM633 491h1v1h-1zM623 492h1v1h-1zM633 492h1v1h-1zM623 493h1v1h-1zM633 493h1v1h-1zM623 494h1v1h-1zM633 494h1v1h-1zM623 495h1v1h-1zM633 495h1v1h-1zM628 487h1v1h-1zM628 499h1v1h-1zM622 493h1v1h-1zM634 493h1v1h-1z" fill="#0072b2"/>
<path d="M671 487h1v1h-1zM672 487h1v1h-1zM673 487h1v1h-1zM674 487h1v1h-1zM675 487h1v1h-1zM676 487h1v1h-1zM677 487h1v1h-1zM671 497h1v1h-1zM672 497h1v1h-1zM673 497h1v1h-1zM674 497h1v1h-1zM675 497h1v1h-1zM676 497h1v1h-1zM677 497h1v1h-1zM670 488h1v1h-1zM670 496h1v1h-1zM671 488h1v1h-1zM671 496h1v1h-1zM677 488h1v1h-1zM677 496h1v1h-1zM678 488h1v1h-1zM678 496h1v1h-1zM669 489h1v1h-1zM669 495h1v1h-1zM670 489h1v1h-1zM670 495h1v1h-1zM678 489h1v1h-1zM678 495h1v1h-1zM679 489h1v1h-1zM679 495h1v1h-1zM669 490h1v1h-1zM679 490h1v1h-1zM669 491h1v1h-1zM679 491h1v1h-1zM669 492h1v1h-1zM679 492h1v1h-1zM669 493h1v1h-1zM679 493h1v1h-1zM669 494h1v1h-1zM679 494h1v1h-1zM674 486h1v1h-1zM674 498h1v1h-1zM668 492h1v1h-1zM680 492h1v1h-1z" fill="#0072b2"/>
<path d="M677 474h1v1h-1zM678 474h1v1h-1zM679 474h1v1h-1zM680 474h1v1h-1zM681 474h1v1h-1zM682 474h1v1h-1zM683 474h1v1h-1zM677 484h1v1h-1zM678 484h1v1h-1zM679 484h1v1h-1zM680 484h1v1h-1zM681 484h1v1h-1zM682 484h1v1h-1zM683 484h1v1h-1zM676 475h1v1h-1zM676 483h1v1h-1zM677 475h1v1h-1zM677 483h1v1h-1zM683 475h1v1h-1zM683 483h1v1h-1zM684 475h1v1h-1zM684 483h1v1h-1zM675 476h1v1h-1zM675 482h1v1h-1zM676 476h1v1h-1zM676 482h1v1h-1zM684 476h1v1h-1zM684 482h1v1h-1zM685 476h1v1h-1zM685 482h1v1h-1zM675 477h1v1h-1zM685 477h1v1h-1zM675 478h1v1h-1zM685 478h1v1h-1zM675 479h1v1h-1zM685 479h1v1h-1zM675 480h1v1h-1zM685 480h1v1h-1zM675 481h1v1h-1zM685 481h1v1h-1zM680 473h1v1h-1zM680 485h1v1h-1zM674 479h1v1h-1zM686 479h1v1h-1z" fill="#0072b2"/>
<path d="M724 490h1v1h-1zM725 490h1v1h-1zM726 490h1v1h-1zM727 490h1v1h-1zM728 490h1v1h-1zM729 490h1v1h-1zM730 490h1v1h-1zM724 500h1v1h-1zM725 500h1v1h-1zM726 500h1v1h-1zM727 500h1v1h-1zM728 500h1v1h-1zM729 500h1v1h-1zM730 500h1v1h-1zM723 491h1v1h-1zM723 499h1v1h-1zM724 491h1v1h-1zM724 499h1v1h-1zM730 491h1v1h-1zM730 499h1v1h-1zM731 491h1v1h-1zM731 499h1v1h-1zM722 492h1v1h-1zM722 498h1v1h-1zM723 492h1v1h-1zM723 498h1v1h-1zM731 492h1v1h-1zM731 498h1v1h-1zM732 492h1v1h-1zM732 498h1v1h-1zM722 493h1v1h-1zM732 493h1v1h-1zM722 494h1v1h-1zM732 494h1v1h-1zM722 495h1v1h-1zM732 495h1v1h-1zM722 496h1v1h-1zM732 496h1v1h-1zM722 497h1v1h-1zM732 497h1v1h-1zM727 489h1v1h-1zM727 501h1v1h-1zM721 495h1v1h-1zM733 495h1v1h-1z" fill="#0072b2"/>
<path d="M730 491h1v1h-1zM731 491h1v1h-1zM732 491h1v1h-1zM733 491h1v1h-1zM734 491h1v1h-1zM735 491h1v1h-1zM736 491h1v1h-1zM730 501h1v1h-1zM731 501h1v1h-1zM732 501h1v1h-1zM733 501h1v1h-1zM734 501h1v1h-1zM735 501h1v1h-1zM736 501h1v1h-1zM729 492h1v1h-1zM729 500h1v1h-1zM730 492h1v1h-1zM730 500h1v1h-1zM736 492h1v1h-1zM736 500h1v1h-1zM737 492h1v1h-1zM737 500h1v1h-1zM728 493h1v1h-1zM728 499h1v1h-1zM729 493h1v1h-1zM729 499h1v1h-1zM737 493h1v1h-1zM737 499h1v1h-1zM738 493h1v1h-1zM738 499h1v1h-1zM728 494h1v1h-1zM738 494h1v1h-1zM728 495h1v1h-1zM738 495h1v1h-1zM728 496h1v1h-1zM738 496h1v1h-1zM728 497h1v1h-1zM738 497h1v1h-1zM728 498h1v1h-1zM738 498h1v1h-1zM733 490h1v1h-1zM733 502h1v1h-1zM727 496h1v1h-1zM739 496h1v1h-1z" fill="#0072b2"/>
<path d="M777 491h1v1h-1zM778 491h1v1h-1zM779 491h1v1h-1zM780 491h1v1h-1zM781 491h1v1h-1zM782 491h1v1h-1zM783 491h1v1h-1zM777 501h1v1h-1zM778 501h1v1h-1zM779 501h1v1h-1zM780 501h1v1h-1zM781 501h1v1h-1zM782 501h1v1h-1zM783 501h1v1h-1zM776 492h1v1h-1zM776 500h1v1h-1zM777 492h1v1h-1zM777 500h1v1h-1zM783 492h1v1h-1zM783 500h1v1h-1zM784 492h1v1h-1zM784 500h1v1h-1zM775 493h1v1h-1zM775 499h1v1h-1zM776 493h1v1h-1zM776 499h1v1h-1zM784 493h1v1h-1zM784 499h1v1h-1zM785 493h1v1h-1zM785 499h1v1h-1zM775 494h1v1h-1zM785 494h1v1h-1zM775 495h1v1h-1zM785 495h1v1h-1zM775 496h1v1h-1zM785 496h1v1h-1zM775 497h1v1h-1zM785 497h1v1h-1zM775 498h1v1h-1zM785 498h1v1h-1zM780 490h1v1h-1zM780 502h1v1h-1zM774 496h1v1h-1zM786 496h1v1h-1z" fill="#0072b2"/>
<path d="M783 492h1v1h-1zM784 492h1v1h-1zM785 492h1v1h-1zM786 492h1v1h-1zM787 492h1v1h-1zM788 492h1v1h-1zM789 492h1v1h-1zM783 502h1v1h-1zM784 502h1v1h-1zM785 502h1v1h-1zM786 502h1v1h-1zM787 502h1v1h-1zM788 502h1v1h-1zM789 502h1v1h-1zM782 493h1v1h-1zM782 501h1v1h-1zM783 493h1v1h-1zM783 501h1v1h-1zM789 493h1v1h-1zM789 501h1v1h-1zM790 493h1v1h-1zM790 501h1v1h-1zM781 494h1v1h-1zM781 500h1v1h-1zM782 494h1v1h-1zM782 500h1v1h-1zM790 494h1v1h-1zM790 500h1v1h-1zM791 494h1v1h-1zM791 500h1v1h-1zM781 495h1v1h-1zM791 495h1v1h-1zM781 496h1v1h-1zM791 496h1v1h-1zM781 497h1v1h-1zM791 497h1v1h-1zM781 498h1v1h-1zM791 498h1v1h-1zM781 499h1v1h-1zM791 499h1v1h-1zM786 491h1v1h-1zM786 503h1v1h-1zM780 497h1v1h-1zM792 497h1v1h-1z" fill="#0072b2"/>
<path d="M830 491h1v1h-1zM831 491h1v1h-1zM832 491h1v1h-1zM833 491h1v1h-1zM834 491h1v1h-1zM835 491h1v1h-1zM836 491h1v1h-1zM830 501h1v1h-1zM831 501h1v1h-1zM832 501h1v1h-1zM833 501h1v1h-1zM834 501h1v1h-1zM835 501h1v1h-1zM836 501h1v1h-1zM829 492h1v1h-1zM829 500h1v1h-1zM830 492h1v1h-1zM830 500h1v1h-1zM836 492h1v1h-1zM836 500h1v1h-1zM837 492h1v1h-1zM837 500h1v1h-1zM828 493h1v1h-1zM828 499h1v1h-1zM829 493h1v1h-1zM829 499h1v1h-1zM837 493h1v1h-1zM837 499h1v1h-1zM838 493h1v1h-1zM838 499h1v1h-1zM828 494h1v1h-1zM838 494h1v1h-1zM828 495h1v1h-1zM838 495h1v1h-1zM828 496h1v1h-1zM838 496h1v1h-1zM828 497h1v1h-1zM838 497h1v1h-1zM828 498h1v1h-1zM838 498h1v1h-1zM833 490h1v1h-1zM833 502h1v1h-1zM827 496h1v1h-1zM839 496h1v1h-1z" fill="#0072b2"/>
<path d="M837 484h1v1h-1zM838 484h1v1h-1zM839 484h1v1h-1zM840 484h1v1h-1zM841 484h1v1h-1zM842 484h1v1h-1zM843 484h1v1h-1zM837 494h1v1h-1zM838 494h1v1h-1zM839 494h1v1h-1zM840 494h1v1h-1zM841 494h1v1h-1zM842 494h1v1h-1zM843 494h1v1h-1zM836 485h1v1h-1zM836 493h1v1h-1zM837 485h1v1h-1zM837 493h1v1h-1zM843 485h1v1h-1zM843 493h1v1h-1zM844 485h1v1h-1zM844 493h1v1h-1zM835 486h1v1h-1zM835 492h1v1h-1zM836 486h1v1h-1zM836 492h1v1h-1zM844 486h1v1h-1zM844 492h1v1h-1zM845 486h1v1h-1zM845 492h1v1h-1zM835 487h1v1h-1zM845 487h1v1h-1zM835 488h1v1h-1zM845 488h1v1h-1zM835 489h1v1h-1zM845 489h1v1h-1zM835 490h1v1h-1zM845 490h1v1h-1zM835 491h1v1h-1zM845 491h1v1h-1zM840 483h1v1h-1zM840 495h1v1h-1zM834 489h1v1h-1zM846 489h1v1h-1z" fill="#0072b2"/>
<path d="M883 490h1v1h-1zM884 490h1v1h-1zM885 490h1v1h-1zM886 490h1v1h-1zM887 490h1v1h-1zM888 490h1v1h-1zM889 490h1v1h-1zM883 500h1v1h-1zM884 500h1v1h-1zM885 500h1v1h-1zM886 500h1v1h-1zM887 500h1v1h-1zM888 500h1v1h-1zM889 500h1v1h-1zM882 491h1v1h-1zM882 499h1v1h-1zM883 491h1v1h-1zM883 499h1v1h-1zM889 491h1v1h-1zM889 499h1v1h-1zM890 491h1v1h-1zM890 499h1v1h-1zM881 492h1v1h-1zM881 498h1v1h-1zM882 492h1v1h-1zM882 498h1v1h-1zM890 492h1v1h-1zM890 498h1v1h-1zM891 492h1v1h-1zM891 498h1v1h-1zM881 493h1v1h-1zM891 493h1v1h-1zM881 494h1v1h-1zM891 494h1v1h-1zM881 495h1v1h-1zM891 495h1v1h-1zM881 496h1v1h-1zM891 496h1v1h-1zM881 497h1v1h-1zM891 497h1v1h-1zM886 489h1v1h-1zM886 501h1v1h-1zM880 495h1v1h-1zM892 495h1v1h-1z" fill="#0072b2"/>
<path d="M891 490h1v1h-1zM892 490h1v1h-1zM893 490h1v1h-1zM894 490h1v1h-1zM895 490h1v1h-1zM896 490h1v1h-1zM897 490h1v1h-1zM891 500h1v1h-1zM892 500h1v1h-1zM893 500h1v1h-1zM894 500h1v1h-1zM895 500h1v1h-1zM896 500h1v1h-1zM897 500h1v1h-1zM890 491h1v1h-1zM890 499h1v1h-1zM891 491h1v1h-1zM891 499h1v1h-1zM897 491h1v1h-1zM897 499h1v1h-1zM898 491h1v1h-1zM898 499h1v1h-1zM889 492h1v1h-1zM889 498h1v1h-1zM890 492h1v1h-1zM890 498h1v1h-1zM898 492h1v1h-1zM898 498h1v1h-1zM899 492h1v1h-1zM899 498h1v1h-1zM889 493h1v1h-1zM899 493h1v1h-1zM889 494h1v1h-1zM899 494h1v1h-1zM889 495h1v1h-1zM899 495h1v1h-1zM889 496h1v1h-1zM899 496h1v1h-1zM889 497h1v1h-1zM899 497h1v1h-1zM894 489h1v1h-1zM894 501h1v1h-1zM888 495h1v1h-1zM900 495h1v1h-1z" fill="#0072b2"/>
<path d="M937 488h1v1h-1zM938 488h1v1h-1zM939 488h1v1h-1zM940 488h1v1h-1zM941 488h1v1h-1zM942 488h1v1h-1zM943 488h1v1h-1zM937 498h1v1h-1zM938 498h1v1h-1zM939 498h1v1h-1zM940 498h1v1h-1zM941 498h1v1h-1zM942 498h1v1h-1zM943 498h1v1h-1zM936 489h1v1h-1zM936 497h1v1h-1zM937 489h1v1h-1zM937 497h1v1h-1zM943 489h1v1h-1zM943 497h1v1h-1zM944 489h1v1h-1zM944 497h1v1h-1zM935 490h1v1h-1zM935 496h1v1h-1zM936 490h1v1h-1zM936 496h1v1h-1zM944 490h1v1h-1zM944 496h1v1h-1zM945 490h1v1h-1zM945 496h1v1h-1zM935 491h1v1h-1zM945 491h1v1h-1zM935 492h1v1h-1zM945 492h1v1h-1zM935 493h1v1h-1zM945 493h1v1h-1zM935 494h1v1h-1zM945 494h1v1h-1zM935 495h1v1h-1zM945 495h1v1h-1zM940 487h1v1h-1zM940 499h1v1h-1zM934 493h1v1h-1zM946 493h1v1h-1z" fill="#0072b2"/>
<path d="M943 483h1v1h-1zM944 483h1v1h-1zM945 483h1v1h-1zM946 483h1v1h-1zM947 483h1v1h-1zM948 483h1v1h-1zM949 483h1v1h-1zM943 493h1v1h-1zM944 493h1v1h-1zM945 493h1v1h-1zM946 493h1v1h-1zM947 493h1v1h-1zM948 493h1v1h-1zM949 493h1v1h-1zM942 484h1v1h-1zM942 492h1v1h-1zM943 484h1v1h-1zM943 492h1v1h-1zM949 484h1v1h-1zM949 492h1v1h-1zM950 484h1v1h-1zM950 492h1v1h-1zM941 485h1v1h-1zM941 491h1v1h-1zM942 485h1v1h-1zM942 491h1v1h-1zM950 485h1v1h-1zM950 491h1v1h-1zM951 485h1v1h-1zM951 491h1v1h-1zM941 486h1v1h-1zM951 486h1v1h-1zM941 487h1v1h-1zM951 487h1v1h-1zM941 488h1v1h-1zM951 488h1v1h-1zM941 489h1v1h-1zM951 489h1v1h-1zM941 490h1v1h-1zM951 490h1v1h-1zM946 482h1v1h-1zM946 494h1v1h-1zM940 488h1v1h-1zM952 488h1v1h-1z" fill="#0072b2"/>
<path d="M990 491h1v1h-1zM991 491h1v1h-1zM992 491h1v1h-1zM993 491h1v1h-1zM994 491h1v1h-1zM995 491h1v1h-1zM996 491h1v1h-1zM990 501h1v1h-1zM991 501h1v1h-1zM992 501h1v1h-1zM993 501h1v1h-1zM994 501h1v1h-1zM995 501h1v1h-1zM996 501h1v1h-1zM989 492h1v1h-1zM989 500h1v1h-1zM990 492h1v1h-1zM990 500h1v1h-1zM996 492h1v1h-1zM996 500h1v1h-1zM997 492h1v1h-1zM997 500h1v1h-1zM988 493h1v1h-1zM988 499h1v1h-1zM989 493h1v1h-1zM989 499h1v1h-1zM997 493h1v1h-1zM997 499h1v1h-1zM998 493h1v1h-1zM998 499h1v1h-1zM988 494h1v1h-1zM998 494h1v1h-1zM988 495h1v1h-1zM998 495h1v1h-1zM988 496h1v1h-1zM998 496h1v1h-1zM988 497h1v1h-1zM998 497h1v1h-1zM988 498h1v1h-1zM998 498h1v1h-1zM993 490h1v1h-1zM993 502h1v1h-1zM987 496h1v1h-1zM999 496h1v1h-1z" fill="#0072b2"/>
<path d="M997 489h1v1h-1zM998 489h1v1h-1zM999 489h1v1h-1zM1000 489h1v1h-1zM1001 489h1v1h-1zM1002 489h1v1h-1zM1003 489h1v1h-1zM997 499h1v1h-1zM998 499h1v1h-1zM999 499h1v1h-1zM1000 499h1v1h-1zM1001 499h1v1h-1zM1002 499h1v1h-1zM1003 499h1v1h-1zM996 490h1v1h-1zM996 498h1v1h-1zM997 490h1v1h-1zM997 498h1v1h-1zM1003 490h1v1h-1zM1003 498h1v1h-1zM1004 490h1v1h-1zM1004 498h1v1h-1zM995 491h1v1h-1zM995 497h1v1h-1zM996 491h1v1h-1zM996 497h1v1h-1zM1004 491h1v1h-1zM1004 497h1v1h-1zM1005 491h1v1h-1zM1005 497h1v1h-1zM995 492h1v1h-1zM1005 492h1v1h-1zM995 493h1v1h-1zM1005 493h1v1h-1zM995 494h1v1h-1zM1005 494h1v1h-1zM995 495h1v1h-1zM1005 495h1v1h-1zM995 496h1v1h-1zM1005 496h1v1h-1zM1000 488h1v1h-1zM1000 500h1v1h-1zM994 494h1v1h-1zM1006 494h1v1h-1z" fill="#0072b2"/>
<path d="M1043 491h1v1h-1zM1044 491h1v1h-1zM1045 491h1v1h-1zM1046 491h1v1h-1zM1047 491h1v1h-1zM1048 491h1v1h-1zM1049 491h1v1h-1zM1043 501h1v1h-1zM1044 501h1v1h-1zM1045 501h1v1h-1zM1046 501h1v1h-1zM1047 501h1v1h-1zM1048 501h1v1h-1zM1049 501h1v1h-1zM1042 492h1v1h-1zM1042 500h1v1h-1zM1043 492h1v1h-1zM1043 500h1v1h-1zM1049 492h1v1h-1zM1049 500h1v1h-1zM1050 492h1v1h-1zM1050 500h1v1h-1zM1041 493h1v1h-1zM1041 499h1v1h-1zM1042 493h1v1h-1zM1042 499h1v1h-1zM1050 493h1v1h-1zM1050 499h1v1h-1zM1051 493h1v1h-1zM1051 499h1v1h-1zM1041 494h1v1h-1zM1051 494h1v1h-1zM1041 495h1v1h-1zM1051 495h1v1h-1zM1041 496h1v1h-1zM1051 496h1v1h-1zM1041 497h1v1h-1zM1051 497h1v1h-1zM1041 498h1v1h-1zM1051 498h1v1h-1zM1046 490h1v1h-1zM1046 502h1v1h-1zM1040 496h1v1h-1zM1052 496h1v1h-1z" fill="#0072b2"/>
<path d="M1049 496h1v1h-1zM1050 496h1v1h-1zM1051 496h1v1h-1zM1052 496h1v1h-1zM1053 496h1v1h-1zM1054 496h1v1h-1zM1055 496h1v1h-1zM1049 506h1v1h-1zM1050 506h1v1h-1zM1051 506h1v1h-1zM1052 506h1v1h-1zM1053 506h1v1h-1zM1054 506h1v1h-1zM1055 506h1v1h-1zM1048 497h1v1h-1zM1048 505h1v1h-1zM1049 497h1v1h-1zM1049 505h1v1h-1zM1055 497h1v1h-1zM1055 505h1v1h-1zM1056 497h1v1h-1zM1056 505h1v1h-1zM1047 498h1v1h-1zM1047 504h1v1h-1zM1048 498h1v1h-1zM1048 504h1v1h-1zM1056 498h1v1h-1zM1056 504h1v1h-1zM1057 498h1v1h-1zM1057 504h1v1h-1zM1047 499h1v1h-1zM1057 499h1v1h-1zM1047 500h1v1h-1zM1057 500h1v1h-1zM1047 501h1v1h-1zM1057 501h1v1h-1zM1047 502h1v1h-1zM1057 502h1v1h-1zM1047 503h1v1h-1zM1057 503h1v1h-1zM1052 495h1v1h-1zM1052 507h1v1h-1zM1046 501h1v1h-1zM1058 501h1v1h-1z" fill="#0072b2"/>
<path d="M1097 479h1v1h-1zM1098 479h1v1h-1zM1099 479h1v1h-1zM1100 479h1v1h-1zM1101 479h1v1h-1zM1102 479h1v1h-1zM1103 479h1v1h-1zM1097 489h1v1h-1zM1098 489h1v1h-1zM1099 489h1v1h-1zM1100 489h1v1h-1zM1101 489h1v1h-1zM1102 489h1v1h-1zM1103 489h1v1h-1zM1096 480h1v1h-1zM1096 488h1v1h-1zM1097 480h1v1h-1zM1097 488h1v1h-1zM1103 480h1v1h-1zM1103 488h1v1h-1zM1104 480h1v1h-1zM1104 488h1v1h-1zM1095 481h1v1h-1zM1095 487h1v1h-1zM1096 481h1v1h-1zM1096 487h1v1h-1zM1104 481h1v1h-1zM1104 487h1v1h-1zM1105 481h1v1h-1zM1105 487h1v1h-1zM1095 482h1v1h-1zM1105 482h1v1h-1zM1095 483h1v1h-1zM1105 483h1v1h-1zM1095 484h1v1h-1zM1105 484h1v1h-1zM1095 485h1v1h-1zM1105 485h1v1h-1zM1095 486h1v1h-1zM1105 486h1v1h-1zM1100 478h1v1h-1zM1100 490h1v1h-1zM1094 484h1v1h-1zM1106 484h1v1h-1z" fill="#0072b2"/>
<path d="M1102 495h1v1h-1zM1103 495h1v1h-1zM1104 495h1v1h-1zM1105 495h1v1h-1zM1106 495h1v1h-1zM1107 495h1v1h-1zM1108 495h1v1h-1zM1102 505h1v1h-1zM1103 505h1v1h-1zM1104 505h1v1h-1zM1105 505h1v1h-1zM1106 505h1v1h-1zM1107 505h1v1h-1zM1108 505h1v1h-1zM1101 496h1v1h-1zM1101 504h1v1h-1zM1102 496h1v1h-1zM1102 504h1v1h-1zM1108 496h1v1h-1zM1108 504h1v1h-1zM1109 496h1v1h-1zM1109 504h1v1h-1zM1100 497h1v1h-1zM1100 503h1v1h-1zM1101 497h1v1h-1zM1101 503h1v1h-1zM1109 497h1v1h-1zM1109 503h1v1h-1zM1110 497h1v1h-1zM1110 503h1v1h-1zM1100 498h1v1h-1zM1110 498h1v1h-1zM1100 499h1v1h-1zM1110 499h1v1h-1zM1100 500h1v1h-1zM1110 500h1v1h-1zM1100 501h1v1h-1zM1110 501h1v1h-1zM1100 502h1v1h-1zM1110 502h1v1h-1zM1105 494h1v1h-1zM1105 506h1v1h-1zM1099 500h1v1h-1zM1111 500h1v1h-1z" fill="#0072b2"/>
<path d="M1149 496h1v1h-1zM1150 496h1v1h-1zM1151 496h1v1h-1zM1152 496h1v1h-1zM1153 496h1v1h-1zM1154 496h1v1h-1zM1155 496h1v1h-1zM1149 506h1v1h-1zM1150 506h1v1h-1zM1151 506h1v1h-1zM1152 506h1v1h-1zM1153 506h1v1h-1zM1154 506h1v1h-1zM1155 506h1v1h-1zM1148 497h1v1h-1zM1148 505h1v1h-1zM1149 497h1v1h-1zM1149 505h1v1h-1zM1155 497h1v1h-1zM1155 505h1v1h-1zM1156 497h1v1h-1zM1156 505h1v1h-1zM1147 498h1v1h-1zM1147 504h1v1h-1zM1148 498h1v1h-1zM1148 504h1v1h-1zM1156 498h1v1h-1zM1156 504h1v1h-1zM1157 498h1v1h-1zM1157 504h1v1h-1zM1147 499h1v1h-1zM1157 499h1v1h-1zM1147 500h1v1h-1zM1157 500h1v1h-1zM1147 501h1v1h-1zM1157 501h1v1h-1zM1147 502h1v1h-1zM1157 502h1v1h-1zM1147 503h1v1h-1zM1157 503h1v1h-1zM1152 495h1v1h-1zM1152 507h1v1h-1zM1146 501h1v1h-1zM1158 501h1v1h-1z" fill="#0072b2"/>
<path d="M1156 489h1v1h-1zM1157 489h1v1h-1zM1158 489h1v1h-1zM1159 489h1v1h-1zM1160 489h1v1h-1zM1161 489h1v1h-1zM1162 489h1v1h-1zM1156 499h1v1h-1zM1157 499h1v1h-1zM1158 499h1v1h-1zM1159 499h1v1h-1zM1160 499h1v1h-1zM1161 499h1v1h-1zM1162 499h1v1h-1zM1155 490h1v1h-1zM1155 498h1v1h-1zM1156 490h1v1h-1zM1156 498h1v1h-1zM1162 490h1v1h-1zM1162 498h1v1h-1zM1163 490h1v1h-1zM1163 498h1v1h-1zM1154 491h1v1h-1zM1154 497h1v1h-1zM1155 491h1v1h-1zM1155 497h1v1h-1zM1163 491h1v1h-1zM1163 497h1v1h-1zM1164 491h1v1h-1zM1164 497h1v1h-1zM1154 492h1v1h-1zM1164 492h1v1h-1zM1154 493h1v1h-1zM1164 493h1v1h-1zM1154 494h1v1h-1zM1164 494h1v1h-1zM1154 495h1v1h-1zM1164 495h1v1h-1zM1154 496h1v1h-1zM1164 496h1v1h-1zM1159 488h1v1h-1zM1159 500h1v1h-1zM1153 494h1v1h-1zM1165 494h1v1h-1z" fill="#0072b2"/>
<path d="M1202 498h1v1h-1zM1203 498h1v1h-1zM1204 498h1v1h-1zM1205 498h1v1h-1zM1206 498h1v1h-1zM1207 498h1v1h-1zM1208 498h1v1h-1zM1202 508h1v1h-1zM1203 508h1v1h-1zM1204 508h1v1h-1zM1205 508h1v1h-1zM1206 508h1v1h-1zM1207 508h1v1h-1zM1208 508h1v1h-1zM1201 499h1v1h-1zM1201 507h1v1h-1zM1202 499h1v1h-1zM1202 507h1v1h-1zM1208 499h1v1h-1zM1208 507h1v1h-1zM1209 499h1v1h-1zM1209 507h1v1h-1zM1200 500h1v1h-1zM1200 506h1v1h-1zM1201 500h1v1h-1zM1201 506h1v1h-1zM1209 500h1v1h-1zM1209 506h1v1h-1zM1210 500h1v1h-1zM1210 506h1v1h-1zM1200 501h1v1h-1zM1210 501h1v1h-1zM1200 502h1v1h-1zM1210 502h1v1h-1zM1200 503h1v1h-1zM1210 503h1v1h-1zM1200 504h1v1h-1zM1210 504h1v1h-1zM1200 505h1v1h-1zM1210 505h1v1h-1zM1205 497h1v1h-1zM1205 509h1v1h-1zM1199 503h1v1h-1zM1211 503h1v1h-1z" fill="#0072b2"/>
<path d="M1209 491h1v1h-1zM1210 491h1v1h-1zM1211 491h1v1h-1zM1212 491h1v1h-1zM1213 491h1v1h-1zM1214 491h1v1h-1zM1215 491h1v1h-1zM1209 501h1v1h-1zM1210 501h1v1h-1zM1211 501h1v1h-1zM1212 501h1v1h-1zM1213 501h1v1h-1zM1214 501h1v1h-1zM1215 501h1v1h-1zM1208 492h1v1h-1zM1208 500h1v1h-1zM1209 492h1v1h-1zM1209 500h1v1h-1zM1215 492h1v1h-1zM1215 500h1v1h-1zM1216 492h1v1h-1zM1216 500h1v1h-1zM1207 493h1v1h-1zM1207 499h1v1h-1zM1208 493h1v1h-1zM1208 499h1v1h-1zM1216 493h1v1h-1zM1216 499h1v1h-1zM1217 493h1v1h-1zM1217 499h1v1h-1zM1207 494h1v1h-1zM1217 494h1v1h-1zM1207 495h1v1h-1zM1217 495h1v1h-1zM1207 496h1v1h-1zM1217 496h1v1h-1zM1207 497h1v1h-1zM1217 497h1v1h-1zM1207 498h1v1h-1zM1217 498h1v1h-1zM1212 490h1v1h-1zM1212 502h1v1h-1zM1206 496h1v1h-1zM1218 496h1v1h-1z" fill="#0072b2"/>
<path d="M1255 491h1v1h-1zM1256 491h1v1h-1zM1257 491h1v1h-1zM1258 491h1v1h-1zM1259 491h1v1h-1zM1260 491h1v1h-1zM1261 491h1v1h-1zM1255 501h1v1h-1zM1256 501h1v1h-1zM1257 501h1v1h-1zM1258 501h1v1h-1zM1259 501h1v1h-1zM1260 501h1v1h-1zM1261 501h1v1h-1zM1254 492h1v1h-1zM1254 500h1v1h-1zM1255 492h1v1h-1zM1255 500h1v1h-1zM1261 492h1v1h-1zM1261 500h1v1h-1zM1262 492h1v1h-1zM1262 500h1v1h-1zM1253 493h1v1h-1zM1253 499h1v1h-1zM1254 493h1v1h-1zM1254 499h1v1h-1zM1262 493h1v1h-1zM1262 499h1v1h-1zM1263 493h1v1h-1zM1263 499h1v1h-1zM1253 494h1v1h-1zM1263 494h1v1h-1zM1253 495h1v1h-1zM1263 495h1v1h-1zM1253 496h1v1h-1zM1263 496h1v1h-1zM1253 497h1v1h-1zM1263 497h1v1h-1zM1253 498h1v1h-1zM1263 498h1v1h-1zM1258 490h1v1h-1zM1258 502h1v1h-1zM1252 496h1v1h-1zM1264 496h1v1h-1z" fill="#0072b2"/>
<path d="M1262 498h1v1h-1zM1263 498h1v1h-1zM1264 498h1v1h-1zM1265 498h1v1h-1zM1266 498h1v1h-1zM1267 498h1v1h-1zM1268 498h1v1h-1zM1262 508h1v1h-1zM1263 508h1v1h-1zM1264 508h1v1h-1zM1265 508h1v1h-1zM1266 508h1v1h-1zM1267 508h1v1h-1zM1268 508h1v1h-1zM1261 499h1v1h-1zM1261 507h1v1h-1zM1262 499h1v1h-1zM1262 507h1v1h-1zM1268 499h1v1h-1zM1268 507h1v1h-1zM1269 499h1v1h-1zM1269 507h1v1h-1zM1260 500h1v1h-1zM1260 506h1v1h-1zM1261 500h1v1h-1zM1261 506h1v1h-1zM1269 500h1v1h-1zM1269 506h1v1h-1zM1270 500h1v1h-1zM1270 506h1v1h-1zM1260 501h1v1h-1zM1270 501h1v1h-1zM1260 502h1v1h-1zM1270 502h1v1h-1zM1260 503h1v1h-1zM1270 503h1v1h-1zM1260 504h1v1h-1zM1270 504h1v1h-1zM1260 505h1v1h-1zM1270 505h1v1h-1zM1265 497h1v1h-1zM1265 509h1v1h-1zM1259 503h1v1h-1zM1271 503h1v1h-1z" fill="#0072b2"/>
<path d="M1309 489h1v1h-1zM1310 489h1v1h-1zM1311 489h1v1h-1zM1312 489h1v1h-1zM1313 489h1v1h-1zM1314 489h1v1h-1zM1315 489h1v1h-1zM1309 499h1v1h-1zM1310 499h1v1h-1zM1311 499h1v1h-1zM1312 499h1v1h-1zM1313 499h1v1h-1zM1314 499h1v1h-1zM1315 499h1v1h-1zM1308 490h1v1h-1zM1308 498h1v1h-1zM1309 490h1v1h-1zM1309 498h1v1h-1zM1315 490h1v1h-1zM1315 498h1v1h-1zM1316 490h1v1h-1zM1316 498h1v1h-1zM1307 491h1v1h-1zM1307 497h1v1h-1zM1308 491h1v1h-1zM1308 497h1v1h-1zM1316 491h1v1h-1zM1316 497h1v1h-1zM1317 491h1v1h-1zM1317 497h1v1h-1zM1307 492h1v1h-1zM1317 492h1v1h-1zM1307 493h1v1h-1zM1317 493h1v1h-1zM1307 494h1v1h-1zM1317 494h1v1h-1zM1307 495h1v1h-1zM1317 495h1v1h-1zM1307 496h1v1h-1zM1317 496h1v1h-1zM1312 488h1v1h-1zM1312 500h1v1h-1zM1306 494h1v1h-1zM1318 494h1v1h-1z" fill="#0072b2"/>
<path d="M1316 499h1v1h-1zM1317 499h1v1h-1zM1318 499h1v1h-1zM1319 499h1v1h-1zM1320 499h1v1h-1zM1321 499h1v1h-1zM1322 499h1v1h-1zM1316 509h1v1h-1zM1317 509h1v1h-1zM1318 509h1v1h-1zM1319 509h1v1h-1zM1320 509h1v1h-1zM1321 509h1v1h-1zM1322 509h1v1h-1zM1315 500h1v1h-1zM1315 508h1v1h-1zM1316 500h1v1h-1zM1316 508h1v1h-1zM1322 500h1v1h-1zM1322 508h1v1h-1zM1323 500h1v1h-1zM1323 508h1v1h-1zM1314 501h1v1h-1zM1314 507h1v1h-1zM1315 501h1v1h-1zM1315 507h1v1h-1zM1323 501h1v1h-1zM1323 507h1v1h-1zM1324 501h1v1h-1zM1324 507h1v1h-1zM1314 502h1v1h-1zM1324 502h1v1h-1zM1314 503h1v1h-1zM1324 503h1v1h-1zM1314 504h1v1h-1zM1324 504h1v1h-1zM1314 505h1v1h-1zM1324 505h1v1h-1zM1314 506h1v1h-1zM1324 506h1v1h-1zM1319 498h1v1h-1zM1319 510h1v1h-1zM1313 504h1v1h-1zM1325 504h1v1h-1z" fill="#0072b2"/>
<path d="M1362 490h1v1h-1zM1363 490h1v1h-1zM1364 490h1v1h-1zM1365 490h1v1h-1zM1366 490h1v1h-1zM1367 490h1v1h-1zM1368 490h1v1h-1zM1362 500h1v1h-1zM1363 500h1v1h-1zM1364 500h1v1h-1zM1365 500h1v1h-1zM1366 500h1v1h-1zM1367 500h1v1h-1zM1368 500h1v1h-1zM1361 491h1v1h-1zM1361 499h1v1h-1zM1362 491h1v1h-1zM1362 499h1v1h-1zM1368 491h1v1h-1zM1368 499h1v1h-1zM1369 491h1v1h-1zM1369 499h1v1h-1zM1360 492h1v1h-1zM1360 498h1v1h-1zM1361 492h1v1h-1zM1361 498h1v1h-1zM1369 492h1v1h-1zM1369 498h1v1h-1zM1370 492h1v1h-1zM1370 498h1v1h-1zM1360 493h1v1h-1zM1370 493h1v1h-1zM1360 494h1v1h-1zM1370 494h1v1h-1zM1360 495h1v1h-1zM1370 495h1v1h-1zM1360 496h1v1h-1zM1370 496h1v1h-1zM1360 497h1v1h-1zM1370 497h1v1h-1zM1365 489h1v1h-1zM1365 501h1v1h-1zM1359 495h1v1h-1zM1371 495h1v1h-1z" fill="#0072b2"/>
<path d="M93 532h7v1h-7zM93 542h7v1h-7zM92 533h9v1h-9zM92 541h9v1h-9zM91 534h11v1h-11zM91 540h11v1h-11zM91 535h11v1h-11zM91 539h11v1h-11zM91 536h11v1h-11zM91 538h11v1h-11zM91 537h11v1h-11zM96 531h1v1h-1zM96 543h1v1h-1zM90 537h1v1h-1zM102 537h1v1h-1z" fill="#e51e10"/>
<path d="M141 532h7v1h-7zM141 542h7v1h-7zM140 533h9v1h-9zM140 541h9v1h-9zM139 534h11v1h-11zM139 540h11v1h-11zM139 535h11v1h-11zM139 539h11v1h-11zM139 536h11v1h-11zM139 538h11v1h-11zM139 537h11v1h-11zM144 531h1v1h-1zM144 543h1v1h-1zM138 537h1v1h-1zM150 537h1v1h-1z" fill="#e51e10"/>
<path d="M199 532h7v1h-7zM199 542h7v1h-7zM198 533h9v1h-9zM198 541h9v1h-9zM197 534h11v1h-11zM197 540h11v1h-11zM197 535h11v1h-11zM197 539h11v1h-11zM197 536h11v1h-11zM197 538h11v1h-11zM197 537h11v1h-11zM202 531h1v1h-1zM202 543h1v1h-1zM196 537h1v1h-1zM208 537h1v1h-1z" fill="#e51e10"/>
<path d="M246 532h7v1h-7zM246 542h7v1h-7zM245 533h9v1h-9zM245 541h9v1h-9zM244 534h11v1h-11zM244 540h11v1h-11zM244 535h11v1h-11zM244 539h11v1h-11zM244 536h11v1h-11zM244 538h11v1h-11zM244 537h11v1h-11zM249 531h1v1h-1zM249 543h1v1h-1zM243 537h1v1h-1zM255 537h1v1h-1z" fill="#e51e10"/>
<path d="M252 532h7v1h-7zM252 542h7v1h-7zM251 533h9v1h-9zM251 541h9v1h-9zM250 534h11v1h-11zM250 540h11v1h-11zM250 535h11v1h-11zM250 539h11v1h-11zM250 536h11v1h-11zM250 538h11v1h-11zM250 537h11v1h-11zM255 531h1v1h-1zM255 543h1v1h-1zM249 537h1v1h-1zM261 537h1v1h-1z" fill="#e51e10"/>
<path d="M299 532h7v1h-7zM299 542h7v1h-7zM298 533h9v1h-9zM298 541h9v1h-9zM297 534h11v1h-11zM297 540h11v1h-11zM297 535h11v1h-11zM297 539h11v1h-11zM297 536h11v1h-11zM297 538h11v1h-11zM297 537h11v1h-11zM302 531h1v1h-1zM302 543h1v1h-1zM296 537h1v1h-1zM308 537h1v1h-1z" fill="#e51e10"/>
<path d="M306 532h7v1h-7zM306 542h7v1h-7zM305 533h9v1h-9zM305 541h9v1h-9zM304 534h11v1h-11zM304 540h11v1h-11zM304 535h11v1h-11zM304 539h11v1h-11zM304 536h11v1h-11zM304 538h11v1h-11zM304 537h11v1h-11zM309 531h1v1h-1zM309 543h1v1h-1zM303 537h1v1h-1zM315 537h1v1h-1z" fill="#e51e10"/>
<path d="M353 532h7v1h-7zM353 542h7v1h-7zM352 533h9v1h-9zM352 541h9v1h-9zM351 534h11v1h-11zM351 540h11v1h-11zM351 535h11v1h-11zM351 539h11v1h-11zM351 536h11v1h-11zM351 538h11v1h-11zM351 537h11v1h-11zM356 531h1v1h-1zM356 543h1v1h-1zM350 537h1v1h-1zM362 537h1v1h-1z" fill="#e51e10"/>
<path d="M359 532h7v1h-7zM359 542h7v1h-7zM358 533h9v1h-9zM358 541h9v1h-9zM357 534h11v1h-11zM357 540h11v1h-11zM357 535h11v1h-11zM357 539h11v1h-11zM357 536h11v1h-11zM357 538h11v1h-11zM357 537h11v1h-11zM362 531h1v1h-1zM362 543h1v1h-1zM356 537h1v1h-1zM368 537h1v1h-1z" fill="#e51e10"/>
<path d="M405 532h7v1h-7zM405 542h7v1h-7zM404 533h9v1h-9zM404 541h9v1h-9zM403 534h11v1h-11zM403 540h11v1h-11zM403 535h11v1h-11zM403 539h11v1h-11zM403 536h11v1h-11zM403 538h11v1h-11zM403 537h11v1h-11zM408 531h1v1h-1zM408 543h1v1h-1zM402 537h1v1h-1zM414 537h1v1h-1z" fill="#e51e10"/>
<path d="M413 532h7v1h-7zM413 542h7v1h-7zM412 533h9v1h-9zM412 541h9v1h-9zM411 534h11v1h-11zM411 540h11v1h-11zM411 535h11v1h-11zM411 539h11v1h-11zM411 536h11v1h-11zM411 538h11v1h-11zM411 537h11v1h-11zM416 531h1v1h-1zM416 543h1v1h-1zM410 537h1v1h-1zM422 537h1v1h-1z" fill="#e51e10"/>
<path d="M458 532h7v1h-7zM458 542h7v1h-7zM457 533h9v1h-9zM457 541h9v1h-9zM456 534h11v1h-11zM456 540h11v1h-11zM456 535h11v1h-11zM456 539h11v1h-11zM456 536h11v1h-11zM456 538h11v1h-11zM456 537h11v1h-11zM461 531h1v1h-1zM461 543h1v1h-1zM455 537h1v1h-1zM467 537h1v1h-1z" fill="#e51e10"/>
<path d="M466 532h7v1h-7zM466 542h7v1h-7zM465 533h9v1h-9zM465 541h9v1h-9zM464 534h11v1h-11zM464 540h11v1h-11zM464 535h11v1h-11zM464 539h11v1h-11zM464 536h11v1h-11zM464 538h11v1h-11zM464 537h11v1h-11zM469 531h1v1h-1zM469 543h1v1h-1zM463 537h1v1h-1zM475 537h1v1h-1z" fill="#e51e10"/>
<path d="M512 532h7v1h-7zM512 542h7v1h-7zM511 533h9v1h-9zM511 541h9v1h-9zM510 534h11v1h-11zM510 540h11v1h-11zM510 535h11v1h-11zM510 539h11v1h-11zM510 536h11v1h-11zM510 538h11v1h-11zM510 537h11v1h-11zM515 531h1v1h-1zM515 543h1v1h-1zM509 537h1v1h-1zM521 537h1v1h-1z" fill="#e51e10"/>
<path d="M518 532h7v1h-7zM518 542h7v1h-7zM517 533h9v1h-9zM517 541h9v1h-9zM516 534h11v1h-11zM516 540h11v1h-11zM516 535h11v1h-11zM516 539h11v1h-11zM516 536h11v1h-11zM516 538h11v1h-11zM516 537h11v1h-11zM521 531h1v1h-1zM521 543h1v1h-1zM515 537h1v1h-1zM527 537h1v1h-1z" fill="#e51e10"/>
<path d="M571 532h7v1h-7zM571 542h7v1h-7zM570 533h9v1h-9zM570 541h9v1h-9zM569 534h11v1h-11zM569 540h11v1h-11zM569 535h11v1h-11zM569 539h11v1h-11zM569 536h11v1h-11zM569 538h11v1h-11zM569 537h11v1h-11zM574 531h1v1h-1zM574 543h1v1h-1zM568 537h1v1h-1zM580 537h1v1h-1z" fill="#e51e10"/>
<path d="M618 532h7v1h-7zM618 542h7v1h-7zM617 533h9v1h-9zM617 541h9v1h-9zM616 534h11v1h-11zM616 540h11v1h-11zM616 535h11v1h-11zM616 539h11v1h-11zM616 536h11v1h-11zM616 538h11v1h-11zM616 537h11v1h-11zM621 531h1v1h-1zM621 543h1v1h-1zM615 537h1v1h-1zM627 537h1v1h-1z" fill="#e51e10"/>
<path d="M625 532h7v1h-7zM625 542h7v1h-7zM624 533h9v1h-9zM624 541h9v1h-9zM623 534h11v1h-11zM623 540h11v1h-11zM623 535h11v1h-11zM623 539h11v1h-11zM623 536h11v1h-11zM623 538h11v1h-11zM623 537h11v1h-11zM628 531h1v1h-1zM628 543h1v1h-1zM622 537h1v1h-1zM634 537h1v1h-1z" fill="#e51e10"/>
<path d="M671 532h7v1h-7zM671 542h7v1h-7zM670 533h9v1h-9zM670 541h9v1h-9zM669 534h11v1h-11zM669 540h11v1h-11zM669 535h11v1h-11zM669 539h11v1h-11zM669 536h11v1h-11zM669 538h11v1h-11zM669 537h11v1h-11zM674 531h1v1h-1zM674 543h1v1h-1zM668 537h1v1h-1zM680 537h1v1h-1z" fill="#e51e10"/>
<path d="M677 532h7v1h-7zM677 542h7v1h-7zM676 533h9v1h-9zM676 541h9v1h-9zM675 534h11v1h-11zM675 540h11v1h-11zM675 535h11v1h-11zM675 539h11v1h-11zM675 536h11v1h-11zM675 538h11v1h-11zM675 537h11v1h-11zM680 531h1v1h-1zM680 543h1v1h-1zM674 537h1v1h-1zM686 537h1v1h-1z" fill="#e51e10"/>
<path d="M724 532h7v1h-7zM724 542h7v1h-7zM723 533h9v1h-9zM723 541h9v1h-9zM722 534h11v1h-11zM722 540h11v1h-11zM722 535h11v1h-11zM722 539h11v1h-11zM722 536h11v1h-11zM722 538h11v1h-11zM722 537h11v1h-11zM727 531h1v1h-1zM727 543h1v1h-1zM721 537h1v1h-1zM733 537h1v1h-1z" fill="#e51e10"/>
<path d="M730 532h7v1h-7zM730 542h7v1h-7zM729 533h9v1h-9zM729 541h9v1h-9zM728 534h11v1h-11zM728 540h11v1h-11zM728 535h11v1h-11zM728 539h11v1h-11zM728 536h11v1h-11zM728 538h11v1h-11zM728 537h11v1h-11zM733 531h1v1h-1zM733 543h1v1h-1zM727 537h1v1h-1zM739 537h1v1h-1z" fill="#e51e10"/>
<path d="M777 532h7v1h-7zM777 542h7v1h-7zM776 533h9v1h-9zM776 541h9v1h-9zM775 534h11v1h-11zM775 540h11v1h-11zM775 535h11v1h-11zM775 539h11v1h-11zM775 536h11v1h-11zM775 538h11v1h-11zM775 537h11v1h-11zM780 531h1v1h-1zM780 543h1v1h-1zM774 537h1v1h-1zM786 537h1v1h-1z" fill="#e51e10"/>
<path d="M783 532h7v1h-7zM783 542h7v1h-7zM782 533h9v1h-9zM782 541h9v1h-9zM781 534h11v1h-11zM781 540h11v1h-11zM781 535h11v1h-11zM781 539h11v1h-11zM781 536h11v1h-11zM781 538h11v1h-11zM781 537h11v1h-11zM786 531h1v1h-1zM786 543h1v1h-1zM780 537h1v1h-1zM792 537h1v1h-1z" fill="#e51e10"/>
<path d="M830 532h7v1h-7zM830 542h7v1h-7zM829 533h9v1h-9zM829 541h9v1h-9zM828 534h11v1h-11zM828 540h11v1h-11zM828 535h11v1h-11zM828 539h11v1h-11zM828 536h11v1h-11zM828 538h11v1h-11zM828 537h11v1h-11zM833 531h1v1h-1zM833 543h1v1h-1zM827 537h1v1h-1zM839 537h1v1h-1z" fill="#e51e10"/>
<path d="M837 532h7v1h-7zM837 542h7v1h-7zM836 533h9v1h-9zM836 541h9v1h-9zM835 534h11v1h-11zM835 540h11v1h-11zM835 535h11v1h-11zM835 539h11v1h-11zM835 536h11v1h-11zM835 538h11v1h-11zM835 537h11v1h-11zM840 531h1v1h-1zM840 543h1v1h-1zM834 537h1v1h-1zM846 537h1v1h-1z" fill="#e51e10"/>
<path d="M883 532h7v1h-7zM883 542h7v1h-7zM882 533h9v1h-9zM882 541h9v1h-9zM881 534h11v1h-11zM881 540h11v1h-11zM881 535h11v1h-11zM881 539h11v1h-11zM881 536h11v1h-11zM881 538h11v1h-11zM881 537h11v1h-11zM886 531h1v1h-1zM886 543h1v1h-1zM880 537h1v1h-1zM892 537h1v1h-1z" fill="#e51e10"/>
<path d="M891 532h7v1h-7zM891 542h7v1h-7zM890 533h9v1h-9zM890 541h9v1h-9zM889 534h11v1h-11zM889 540h11v1h-11zM889 535h11v1h-11zM889 539h11v1h-11zM889 536h11v1h-11zM889 538h11v1h-11zM889 537h11v1h-11zM894 531h1v1h-1zM894 543h1v1h-1zM888 537h1v1h-1zM900 537h1v1h-1z" fill="#e51e10"/>
<path d="M937 532h7v1h-7zM937 542h7v1h-7zM936 533h9v1h-9zM936 541h9v1h-9zM935 534h11v1h-11zM935 540h11v1h-11zM935 535h11v1h-11zM935 539h11v1h-11zM935 536h11v1h-11zM935 538h11v1h-11zM935 537h11v1h-11zM940 531h1v1h-1zM940 543h1v1h-1zM934 537h1v1h-1zM946 537h1v1h-1z" fill="#e51e10"/>
<path d="M943 532h7v1h-7zM943 542h7v1h-7zM942 533h9v1h-9zM942 541h9v1h-9zM941 534h11v1h-11zM941 540h11v1h-11zM941 535h11v1h-11zM941 539h11v1h-11zM941 536h11v1h-11zM941 538h11v1h-11zM941 537h11v1h-11zM946 531h1v1h-1zM946 543h1v1h-1zM940 537h1v1h-1zM952 537h1v1h-1z" fill="#e51e10"/>
<path d="M990 532h7v1h-7zM990 542h7v1h-7zM989 533h9v1h-9zM989 541h9v1h-9zM988 534h11v1h-11zM988 540h11v1h-11zM988 535h11v1h-11zM988 539h11v1h-11zM988 536h11v1h-11zM988 538h11v1h-11zM988 537h11v1h-11zM993 531h1v1h-1zM993 543h1v1h-1zM987 537h1v1h-1zM999 537h1v1h-1z" fill="#e51e10"/>
<path d="M997 532h7v1h-7zM997 542h7v1h-7zM996 533h9v1h-9zM996 541h9v1h-9zM995 534h11v1h-11zM995 540h11v1h-11zM995 535h11v1h-11zM995 539h11v1h-11zM995 536h11v1h-11zM995 538h11v1h-11zM995 537h11v1h-11zM1000 531h1v1h-1zM1000 543h1v1h-1zM994 537h1v1h-1zM1006 537h1v1h-1z" fill="#e51e10"/>
<path d="M1043 532h7v1h-7zM1043 542h7v1h-7zM1042 533h9v1h-9zM1042 541h9v1h-9zM1041 534h11v1h-11zM1041 540h11v1h-11zM1041 535h11v1h-11zM1041 539h11v1h-11zM1041 536h11v1h-11zM1041 538h11v1h-11zM1041 537h11v1h-11zM1046 531h1v1h-1zM1046 543h1v1h-1zM1040 537h1v1h-1zM1052 537h1v1h-1z" fill="#e51e10"/>
<path d="M1049 532h7v1h-7zM1049 542h7v1h-7zM1048 533h9v1h-9zM1048 541h9v1h-9zM1047 534h11v1h-11zM1047 540h11v1h-11zM1047 535h11v1h-11zM1047 539h11v1h-11zM1047 536h11v1h-11zM1047 538h11v1h-11zM1047 537h11v1h-11zM1052 531h1v1h-1zM1052 543h1v1h-1zM1046 537h1v1h-1zM1058 537h1v1h-1z" fill="#e51e10"/>
<path d="M1097 532h7v1h-7zM1097 542h7v1h-7zM1096 533h9v1h-9zM1096 541h9v1h-9zM1095 534h11v1h-11zM1095 540h11v1h-11zM1095 535h11v1h-11zM1095 539h11v1h-11zM1095 536h11v1h-11zM1095 538h11v1h-11zM1095 537h11v1h-11zM1100 531h1v1h-1zM1100 543h1v1h-1zM1094 537h1v1h-1zM1106 537h1v1h-1z" fill="#e51e10"/>
<path d="M1102 532h7v1h-7zM1102 542h7v1h-7zM1101 533h9v1h-9zM1101 541h9v1h-9zM1100 534h11v1h-11zM1100 540h11v1h-11zM1100 535h11v1h-11zM1100 539h11v1h-11zM1100 536h11v1h-11zM1100 538h11v1h-11zM1100 537h11v1h-11zM1105 531h1v1h-1zM1105 543h1v1h-1zM1099 537h1v1h-1zM1111 537h1v1h-1z" fill="#e51e10"/>
<path d="M1149 532h7v1h-7zM1149 542h7v1h-7zM1148 533h9v1h-9zM1148 541h9v1h-9zM1147 534h11v1h-11zM1147 540h11v1h-11zM1147 535h11v1h-11zM1147 539h11v1h-11zM1147 536h11v1h-11zM1147 538h11v1h-11zM1147 537h11v1h-11zM1152 531h1v1h-1zM1152 543h1v1h-1zM1146 537h1v1h-1zM1158 537h1v1h-1z" fill="#e51e10"/>
<path d="M1156 532h7v1h-7zM1156 542h7v1h-7zM1155 533h9v1h-9zM1155 541h9v1h-9zM1154 534h11v1h-11zM1154 540h11v1h-11zM1154 535h11v1h-11zM1154 539h11v1h-11zM1154 536h11v1h-11zM1154 538h11v1h-11zM1154 537h11v1h-11zM1159 531h1v1h-1zM1159 543h1v1h-1zM1153 537h1v1h-1zM1165 537h1v1h-1z" fill="#e51e10"/>
<path d="M1202 532h7v1h-7zM1202 542h7v1h-7zM1201 533h9v1h-9zM1201 541h9v1h-9zM1200 534h11v1h-11zM1200 540h11v1h-11zM1200 535h11v1h-11zM1200 539h11v1h-11zM1200 536h11v1h-11zM1200 538h11v1h-11zM1200 537h11v1h-11zM1205 531h1v1h-1zM1205 543h1v1h-1zM1199 537h1v1h-1zM1211 537h1v1h-1z" fill="#e51e10"/>
<path d="M1209 532h7v1h-7zM1209 542h7v1h-7zM1208 533h9v1h-9zM1208 541h9v1h-9zM1207 534h11v1h-11zM1207 540h11v1h-11zM1207 535h11v1h-11zM1207 539h11v1h-11zM1207 536h11v1h-11zM1207 538h11v1h-11zM1207 537h11v1h-11zM1212 531h1v1h-1zM1212 543h1v1h-1zM1206 537h1v1h-1zM1218 537h1v1h-1z" fill="#e51e10"/>
<path d="M1255 532h7v1h-7zM1255 542h7v1h-7zM1254 533h9v1h-9zM1254 541h9v1h-9zM1253 534h11v1h-11zM1253 540h11v1h-11zM1253 535h11v1h-11zM1253 539h11v1h-11zM1253 536h11v1h-11zM1253 538h11v1h-11zM1253 537h11v1h-11zM1258 531h1v1h-1zM1258 543h1v1h-1zM1252 537h1v1h-1zM1264 537h1v1h-1z" fill="#e51e10"/>
<path d="M1262 532h7v1h-7zM1262 542h7v1h-7zM1261 533h9v1h-9zM1261 541h9v1h-9zM1260 534h11v1h-11zM1260 540h11v1h-11zM1260 535h11v1h-11zM1260 539h11v1h-11zM1260 536h11v1h-11zM1260 538h11v1h-11zM1260 537h11v1h-11zM1265 531h1v1h-1zM1265 543h1v1h-1zM1259 537h1v1h-1zM1271 537h1v1h-1z" fill="#e51e10"/>
<path d="M1309 532h7v1h-7zM1309 542h7v1h-7zM1308 533h9v1h-9zM1308 541h9v1h-9zM1307 534h11v1h-11zM1307 540h11v1h-11zM1307 535h11v1h-11zM1307 539h11v1h-11zM1307 536h11v1h-11zM1307 538h11v1h-11zM1307 537h11v1h-11zM1312 531h1v1h-1zM1312 543h1v1h-1zM1306 537h1v1h-1zM1318 537h1v1h-1z" fill="#e51e10"/>
<path d="M1316 532h7v1h-7zM1316 542h7v1h-7zM1315 533h9v1h-9zM1315 541h9v1h-9zM1314 534h11v1h-11zM1314 540h11v1h-11zM1314 535h11v1h-11zM1314 539h11v1h-11zM1314 536h11v1h-11zM1314 538h11v1h-11zM1314 537h11v1h-11zM1319 531h1v1h-1zM1319 543h1v1h-1zM1313 537h1v1h-1zM1325 537h1v1h-1z" fill="#e51e10"/>
<path d="M1362 532h7v1h-7zM1362 542h7v1h-7zM1361 533h9v1h-9zM1361 541h9v1h-9zM1360 534h11v1h-11zM1360 540h11v1h-11zM1360 535h11v1h-11zM1360 539h11v1h-11zM1360 536h11v1h-11zM1360 538h11v1h-11zM1360 537h11v1h-11zM1365 531h1v1h-1zM1365 543h1v1h-1zM1359 537h1v1h-1zM1371 537h1v1h-1z" fill="#e51e10"/>
<polygon points="107.7,456.0 99.4,468.5 116.0,468.5" fill="none" stroke="#000000" stroke-width="1"/>
<polygon points="200.0,456.0 191.7,468.5 208.3,468.5" fill="none" stroke="#000000" stroke-width="1"/>
<polygon points="634.5,456.0 626.2,468.5 642.8,468.5" fill="none" stroke="#000000" stroke-width="1"/>
<polygon points="926.5,456.0 918.2,468.5 934.8,468.5" fill="none" stroke="#000000" stroke-width="1"/>
<polygon points="992.5,456.0 984.2,468.5 1000.8,468.5" fill="none" stroke="#000000" stroke-width="1"/>
<polygon points="1116.3,456.0 1108.0,468.5 1124.6,468.5" fill="none" stroke="#000000" stroke-width="1"/>
<polygon points="1140.3,456.0 1132.0,468.5 1148.6,468.5" fill="none" stroke="#000000" stroke-width="1"/>
<polygon points="1328.0,456.0 1319.7,468.5 1336.3,468.5" fill="none" stroke="#000000" stroke-width="1"/>
<polygon points="1341.5,456.0 1333.2,468.5 1349.8,468.5" fill="none" stroke="#000000" stroke-width="1"/>
<polygon points="1364.4,456.0 1356.1,468.5 1372.7,468.5" fill="none" stroke="#000000" stroke-width="1"/>
<polygon points="200.0,401.5 191.4,415.0 208.6,415.0" fill="#9400d3"/>
<polygon points="253.3,401.5 244.7,415.0 261.9,415.0" fill="#9400d3"/>
<polygon points="307.7,401.5 299.1,415.0 316.3,415.0" fill="#9400d3"/>
<polygon points="519.6,401.5 511.0,415.0 528.2,415.0" fill="#9400d3"/>
<polygon points="572.5,401.5 563.9,415.0 581.1,415.0" fill="#9400d3"/>
<polygon points="785.4,401.5 776.8,415.0 794.0,415.0" fill="#9400d3"/>
<polygon points="838.4,401.5 829.8,415.0 847.0,415.0" fill="#9400d3"/>
<polygon points="1050.6,401.5 1042.0,415.0 1059.2,415.0" fill="#9400d3"/>
<polygon points="1103.5,401.5 1094.9,415.0 1112.1,415.0" fill="#9400d3"/>
<path d="M194.0 421.5H207.0M200.5 415.0V428.0" stroke="#009e73" stroke-width="1"/>
<path d="M570.0 421.5H583.0M576.5 415.0V428.0" stroke="#009e73" stroke-width="1"/>
<path d="M920.0 421.5H933.0M926.5 415.0V428.0" stroke="#009e73" stroke-width="1"/>
<polygon points="86.0,350 153.0,350 145.0,363 94.0,363" fill="#e69f00"/>
<polygon points="526.2,350 1377.0,350 1369.0,363 534.2,363" fill="#e69f00"/>
<rect x="621" y="362" width="1" height="1" fill="#fff"/>
<rect x="688" y="362" width="1" height="1" fill="#fff"/>
<rect x="751" y="362" width="1" height="1" fill="#fff"/>
<rect x="858" y="362" width="1" height="1" fill="#fff"/>
<rect x="997" y="362" width="1" height="1" fill="#fff"/>
<rect x="1071" y="362" width="1" height="1" fill="#fff"/>
<rect x="1144" y="362" width="1" height="1" fill="#fff"/>
<rect x="1207" y="362" width="1" height="1" fill="#fff"/>
<rect x="1342" y="362" width="1" height="1" fill="#fff"/>
</g>
<g shape-rendering="crispEdges">
<path d="M1303 73.5H1350" stroke="#9400d3" stroke-width="1"/>
<path d="M1303 92.5H1350" stroke="#009e73" stroke-width="1"/>
<path d="M1303 111.5H1350" stroke="#56b4e9" stroke-width="1"/>
<rect x="1320.5" y="124.5" width="12" height="12" fill="none" stroke="#e69f00" stroke-width="1"/>
<rect x="1320" y="143" width="13" height="13" fill="#f0e442"/>
<path d="M1323 163h1v1h-1zM1324 163h1v1h-1zM1325 163h1v1h-1zM1326 163h1v1h-1zM1327 163h1v1h-1zM1328 163h1v1h-1zM1329 163h1v1h-1zM1323 173h1v1h-1zM1324 173h1v1h-1zM1325 173h1v1h-1zM1326 173h1v1h-1zM1327 173h1v1h-1zM1328 173h1v1h-1zM1329 173h1v1h-1zM1322 164h1v1h-1zM1322 172h1v1h-1zM1323 164h1v1h-1zM1323 172h1v1h-1zM1329 164h1v1h-1zM1329 172h1v1h-1zM1330 164h1v1h-1zM1330 172h1v1h-1zM1321 165h1v1h-1zM1321 171h1v1h-1zM1322 165h1v1h-1zM1322 171h1v1h-1zM1330 165h1v1h-1zM1330 171h1v1h-1zM1331 165h1v1h-1zM1331 171h1v1h-1zM1321 166h1v1h-1zM1331 166h1v1h-1zM1321 167h1v1h-1zM1331 167h1v1h-1zM1321 168h1v1h-1zM1331 168h1v1h-1zM1321 169h1v1h-1zM1331 169h1v1h-1zM1321 170h1v1h-1zM1331 170h1v1h-1zM1326 162h1v1h-1zM1326 174h1v1h-1zM1320 168h1v1h-1zM1332 168h1v1h-1z" fill="#0072b2"/>
<path d="M1323 182h7v1h-7zM1323 192h7v1h-7zM1322 183h9v1h-9zM1322 191h9v1h-9zM1321 184h11v1h-11zM1321 190h11v1h-11zM1321 185h11v1h-11zM1321 189h11v1h-11zM1321 186h11v1h-11zM1321 188h11v1h-11zM1321 187h11v1h-11zM1326 181h1v1h-1zM1326 193h1v1h-1zM1320 187h1v1h-1zM1332 187h1v1h-1z" fill="#e51e10"/>
<polygon points="1326.4,198.4 1318.1,210.7 1334.7,210.7" fill="none" stroke="#000000" stroke-width="1"/>
<polygon points="1326.4,217.3 1318.1,229.8 1334.7,229.8" fill="#9400d3"/>
<path d="M1320.0 244.5H1333.0M1326.5 238.0V251.0" stroke="#009e73" stroke-width="1"/>
<polygon points="1318.1,259.0 1334.7,259.0 1326.4,271.5" fill="none" stroke="#e69f00" stroke-width="1"/>
</g>
<rect x="94.5" y="57.5" width="1275" height="482" fill="none" stroke="#000" stroke-width="1" shape-rendering="crispEdges"/>
</svg>
</body></html>
